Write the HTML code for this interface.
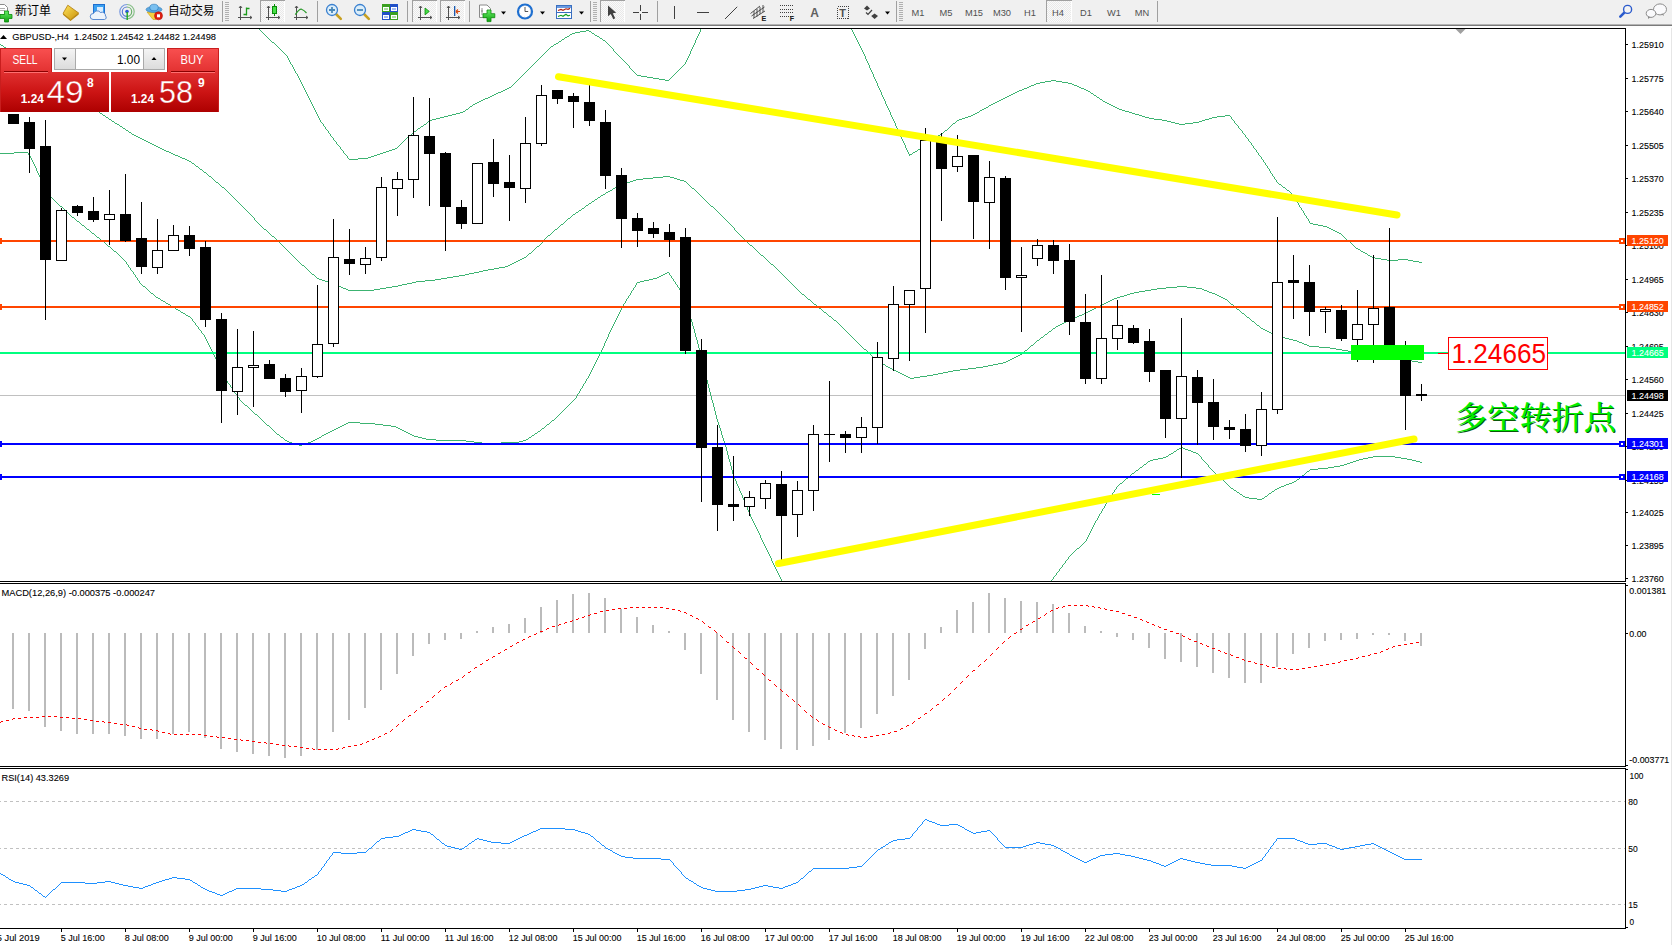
<!DOCTYPE html><html><head><meta charset="utf-8"><title>GBPUSD H4</title><style>html,body{margin:0;padding:0;background:#fff;overflow:hidden}body{width:1672px;height:945px;position:relative}</style></head><body><svg width="1672" height="945" viewBox="0 0 1672 945" font-family='"Liberation Sans","Noto Sans CJK SC",sans-serif' style="position:absolute;left:0;top:0">
<defs>
<clipPath id="cm"><rect x="0" y="29" width="1625" height="552"/></clipPath>
<linearGradient id="gsell" x1="0" y1="0" x2="0" y2="1"><stop offset="0" stop-color="#f95050"/><stop offset="1" stop-color="#e23030"/></linearGradient>
<linearGradient id="gprice" x1="0" y1="0" x2="0" y2="1"><stop offset="0" stop-color="#e03030"/><stop offset="0.5" stop-color="#cc1414"/><stop offset="1" stop-color="#ad0000"/></linearGradient>
<linearGradient id="gpriceU" gradientUnits="userSpaceOnUse" x1="0" y1="72" x2="0" y2="112"><stop offset="0" stop-color="#e03030"/><stop offset="0.5" stop-color="#cc1414"/><stop offset="1" stop-color="#ad0000"/></linearGradient>
<linearGradient id="gbtn" x1="0" y1="0" x2="0" y2="1"><stop offset="0" stop-color="#f4f4f4"/><stop offset="1" stop-color="#dcdcdc"/></linearGradient>
<linearGradient id="ggold" x1="0" y1="0" x2="1" y2="1"><stop offset="0" stop-color="#ffe45a"/><stop offset="1" stop-color="#c8900a"/></linearGradient>
<linearGradient id="ggreen" x1="0" y1="0" x2="0" y2="1"><stop offset="0" stop-color="#66ee66"/><stop offset="1" stop-color="#10a010"/></linearGradient>
<pattern id="hatch" width="2" height="2" patternUnits="userSpaceOnUse"><rect width="2" height="2" fill="#fafafa"/><rect width="1" height="1" fill="#e9e9e9"/><rect x="1" y="1" width="1" height="1" fill="#e9e9e9"/></pattern>
</defs>
<rect x="0" y="0" width="1672" height="945" fill="#fff" />
<g shape-rendering="crispEdges">
<rect x="0" y="28" width="1626" height="1" fill="#000" />
<rect x="1625" y="28" width="1" height="554" fill="#000" />
<rect x="0" y="581" width="1626" height="1" fill="#000" />
<rect x="0" y="583" width="1626" height="1" fill="#000" />
<rect x="1625" y="583" width="1" height="184" fill="#000" />
<rect x="0" y="766" width="1626" height="1" fill="#000" />
<rect x="0" y="768" width="1626" height="1" fill="#000" />
<rect x="1625" y="768" width="1" height="161" fill="#000" />
<rect x="0" y="928" width="1626" height="1" fill="#000" />
</g>
<g clip-path="url(#cm)" shape-rendering="crispEdges">
<rect x="0" y="395" width="1625" height="1" fill="#c0c0c0" />
<path d="M896 371.5h2M948 371.5h5M299 445.5h3M1070 319.5h2M185 159.5h2M349 159.5h9M989 105.5h2M1111 105.5h2M469 273.5h5M665 273.5h2M326 433.5h2M408 433.5h2M535 433.5h2M343 288.5h3M380 288.5h6M1157 288.5h9M1196 288.5h6M1294 481.5h2M904 375.5h2M927 375.5h6M617 186.5h2M55 82.5h2M1040 82.5h5M1062 82.5h6M598 197.5h2M643 178.5h10M674 178.5h3M87 229.5h2M264 229.5h2M555 229.5h2M1331 229.5h2M1058 325.5h2M1257 325.5h2M1140 467.5h2M1328 467.5h6M1062 323.5h2M348 422.5h12M285 440.5h2M313 440.5h2M436 440.5h30M523 440.5h3M158 298.5h2M1114 298.5h3M1223 298.5h2M601 195.5h2M1333 230.5h2M1350 462.5h3M1420 462.5h2M1299 342.5h3M1363 252.5h2M112 121.5h2M428 121.5h2M1167 121.5h4M1199 121.5h3M151 293.5h2M1130 293.5h4M1212 293.5h3M1012 358.5h2M1392 358.5h7M556 43.5h2M1257 499.5h5M71 93.5h2M496 93.5h2M1013 93.5h2M1091 93.5h2M143 286.5h2M339 286.5h2M392 286.5h6M1177 286.5h10M808 299.5h2M1112 299.5h2M1225 299.5h2M529 253.5h2M1365 253.5h2M1171 122.5h4M1193 122.5h6M414 436.5h4M1166 456.5h2M1373 456.5h22M1272 491.5h2M1158 458.5h5M1363 458.5h5M1401 458.5h6M1018 355.5h2M1373 355.5h7M636 179.5h7M677 179.5h3M873 357.5h2M1014 357.5h2M1386 357.5h6M1348 351.5h6M114 251.5h2M1361 251.5h2M518 260.5h2M1387 260.5h11M1408 260.5h5M129 132.5h2M1139 291.5h6M1207 291.5h2M483 99.5h2M1001 99.5h2M1100 99.5h2M188 316.5h2M829 316.5h2M1077 316.5h2M1006 361.5h2M1412 361.5h6M272 236.5h2M87 104.5h2M473 104.5h2M991 104.5h2M1109 104.5h2M619 185.5h3M161 300.5h2M1110 300.5h2M200 169.5h2M479 101.5h2M997 101.5h2M1103 101.5h2M452 114.5h4M973 114.5h2M1135 114.5h4M322 280.5h3M425 280.5h10M644 280.5h5M1150 460.5h3M1356 460.5h3M1412 460.5h4M1319 347.5h11M1302 475.5h2M573 214.5h2M1056 326.5h2M1148 461.5h2M1353 461.5h3M1416 461.5h4M84 102.5h2M477 102.5h2M995 102.5h2M1105 102.5h2M315 439.5h2M426 439.5h10M526 439.5h2M103 115.5h2M448 115.5h4M971 115.5h2M1139 115.5h3M1225 115.5h5M1179 448.5h2M1183 448.5h2M52 80.5h2M665 80.5h4M1051 80.5h5M475 103.5h2M993 103.5h2M1107 103.5h2M1269 332.5h2M1020 354.5h2M1367 354.5h6M176 309.5h2M1092 309.5h2M1237 309.5h2M1134 292.5h5M1209 292.5h3M336 428.5h2M398 428.5h2M542 428.5h2M802 294.5h2M1127 294.5h3M1215 294.5h2M1126 478.5h2M1318 468.5h10M600 38.5h2M7 49.5h2M154 145.5h2M346 289.5h2M374 289.5h6M1151 289.5h6M1202 289.5h2M166 151.5h3M386 151.5h3M915 151.5h2M222 187.5h2M615 187.5h2M1283 187.5h2M134 135.5h2M409 135.5h2M938 135.5h2M186 315.5h2M1079 315.5h3M281 437.5h2M319 437.5h2M418 437.5h4M529 437.5h2M156 146.5h2M33 67.5h2M750 245.5h2M1360 353.5h7M516 261.5h2M1413 261.5h6M647 77.5h6M302 265.5h2M508 265.5h2M1356 248.5h2M479 271.5h4M1008 360.5h2M1405 360.5h7M97 111.5h2M463 111.5h2M1125 111.5h4M322 435.5h2M412 435.5h2M532 435.5h2M109 119.5h2M432 119.5h4M959 119.5h3M1154 119.5h8M1205 119.5h4M888 367.5h2M976 367.5h7M1025 350.5h2M1342 350.5h6M900 373.5h2M938 373.5h5M892 369.5h2M960 369.5h8M988 365.5h5M576 212.5h2M1124 295.5h3M1217 295.5h2M317 438.5h2M422 438.5h4M1034 84.5h2M1072 84.5h2M100 113.5h2M456 113.5h4M975 113.5h2M1132 113.5h3M503 90.5h2M1019 90.5h3M1086 90.5h2M43 74.5h2M430 120.5h2M957 120.5h2M1162 120.5h5M1202 120.5h3M123 128.5h2M418 128.5h2M14 152.5h14M169 152.5h2M383 152.5h3M913 152.5h2M1281 486.5h3M175 155.5h3M374 155.5h3M14 54.5h2M1249 498.5h8M1262 498.5h2M1029 86.5h2M1077 86.5h2M106 117.5h2M440 117.5h4M965 117.5h3M1145 117.5h4M1212 117.5h5M444 116.5h4M968 116.5h3M1142 116.5h3M1217 116.5h8M1106 302.5h2M1053 328.5h2M1261 328.5h2M906 376.5h2M920 376.5h7M998 363.5h5M1077 548.5h2M164 150.5h2M389 150.5h3M1045 81.5h6M1056 81.5h6M182 158.5h3M358 158.5h10M453 276.5h6M659 276.5h2M171 306.5h2M1098 306.5h2M1045 334.5h2M1274 334.5h2M1120 483.5h2M1289 483.5h3M1153 459.5h5M1359 459.5h4M1407 459.5h5M436 118.5h4M962 118.5h3M1149 118.5h5M1209 118.5h3M834 320.5h2M1068 320.5h2M346 423.5h2M360 423.5h15M132 134.5h2M940 134.5h2M289 442.5h3M308 442.5h3M474 442.5h8M501 442.5h18M1286 484.5h3M562 39.5h2M334 429.5h2M400 429.5h2M886 366.5h2M983 366.5h5M82 225.5h2M1318 225.5h5M633 180.5h3M680 180.5h4M1327 227.5h2M1302 343.5h2M819 308.5h2M1094 308.5h2M292 443.5h4M305 443.5h3M482 443.5h19M559 41.5h2M136 136.5h2M936 136.5h2M0 153.5h14M171 153.5h2M380 153.5h3M608 191.5h2M156 297.5h2M1117 297.5h3M1221 297.5h2M761 255.5h2M1368 255.5h2M1243 496.5h2M1265 496.5h2M17 56.5h2M1323 226.5h4M986 107.5h2M1115 107.5h2M173 154.5h2M377 154.5h3M909 154.5h3M1335 231.5h2M488 269.5h6M864 349.5h2M1336 349.5h6M168 304.5h2M814 304.5h2M1102 304.5h2M1231 304.5h2M520 259.5h2M1381 259.5h6M1398 259.5h10M1337 232.5h2M880 362.5h2M1003 362.5h3M1418 362.5h4M216 182.5h2M627 182.5h3M1263 329.5h2M1279 336.5h2M1354 352.5h6M60 206.5h2M711 206.5h2M81 100.5h2M481 100.5h2M999 100.5h2M1329 228.5h2M255 414.5h2M1271 333.5h3M592 201.5h2M1163 457.5h3M1368 457.5h5M1395 457.5h6M341 287.5h2M386 287.5h6M1166 287.5h11M1187 287.5h9M494 268.5h5M287 441.5h2M311 441.5h2M466 441.5h8M519 441.5h4M72 217.5h2M414 131.5h2M902 374.5h2M933 374.5h5M30 65.5h2M296 444.5h3M302 444.5h3M610 190.5h2M1287 190.5h2M568 218.5h2M331 283.5h3M407 283.5h5M77 221.5h2M1169 454.5h2M138 137.5h2M934 137.5h2M603 194.5h2M20 58.5h2M328 432.5h2M406 432.5h2M898 372.5h2M943 372.5h5M586 205.5h2M338 427.5h2M396 427.5h2M163 301.5h2M1108 301.5h2M1347 240.5h2M312 274.5h2M465 274.5h4M663 274.5h2M630 181.5h3M684 181.5h2M11 52.5h2M490 96.5h2M1007 96.5h2M1370 256.5h2M1358 249.5h2M488 97.5h2M1005 97.5h2M1097 97.5h2M1304 344.5h3M62 87.5h2M509 87.5h2M1027 87.5h2M1079 87.5h2M586 30.5h3M181 312.5h2M824 312.5h2M1086 312.5h2M876 359.5h2M1010 359.5h2M1399 359.5h6M336 285.5h3M398 285.5h4M505 266.5h3M180 157.5h2M368 157.5h3M126 130.5h2M945 130.5h2M1016 356.5h2M1380 356.5h6M1310 469.5h8M507 88.5h2M1024 88.5h3M1081 88.5h3M572 33.5h3M592 33.5h2M524 257.5h2M1372 257.5h3M653 177.5h10M670 177.5h4M1136 470.5h2M1275 489.5h2M160 148.5h2M395 148.5h2M328 282.5h3M412 282.5h4M637 282.5h3M1177 449.5h2M1185 449.5h3M522 258.5h2M1375 258.5h6M1082 314.5h2M499 267.5h6M1245 497.5h4M1297 341.5h2M890 368.5h2M968 368.5h8M344 424.5h2M375 424.5h8M547 424.5h2M115 123.5h2M953 123.5h2M1175 123.5h4M1185 123.5h8M334 284.5h2M402 284.5h5M1347 463.5h3M65 89.5h2M505 89.5h2M1022 89.5h2M1084 89.5h2M74 95.5h2M492 95.5h2M1009 95.5h2M1094 95.5h2M474 272.5h5M667 272.5h2M883 364.5h2M993 364.5h5M78 98.5h2M485 98.5h3M1003 98.5h2M622 184.5h3M1279 184.5h2M146 141.5h2M926 141.5h2M582 208.5h2M348 290.5h26M1145 290.5h6M1204 290.5h3M561 224.5h2M1313 224.5h5M1334 466.5h6M1049 331.5h2M1267 331.5h2M548 235.5h2M908 377.5h2M914 377.5h6M637 75.5h4M606 192.5h2M144 140.5h2M928 140.5h2M1031 345.5h2M1307 345.5h2M512 263.5h2M1310 223.5h3M1292 482.5h2M173 307.5h2M1096 307.5h2M332 430.5h2M402 430.5h2M1037 340.5h2M1293 340.5h4M980 110.5h2M1122 110.5h3M1100 305.5h2M317 278.5h2M441 278.5h6M653 278.5h4M178 156.5h2M371 156.5h3M1307 471.5h2M120 126.5h2M421 126.5h2M552 420.5h2M554 44.5h2M325 281.5h3M416 281.5h9M640 281.5h4M570 34.5h2M1221 479.5h2M1297 479.5h2M1 45.5h2M625 183.5h2M1285 338.5h4M148 142.5h2M1041 337.5h2M1281 337.5h4M330 431.5h2M404 431.5h2M538 431.5h2M1330 348.5h6M189 161.5h2M567 36.5h2M597 36.5h2M984 108.5h2M1117 108.5h2M1284 485.5h2M1132 473.5h2M1064 322.5h2M910 378.5h4M459 275.5h6M661 275.5h2M613 188.5h2M692 188.5h2M90 106.5h2M470 106.5h2M1113 106.5h2M68 91.5h2M501 91.5h2M1017 91.5h2M1088 91.5h2M178 310.5h2M1090 310.5h2M1074 317.5h3M1247 317.5h2M49 78.5h2M653 78.5h6M894 370.5h2M953 370.5h7M94 109.5h2M466 109.5h2M982 109.5h2M1119 109.5h3M4 47.5h2M580 31.5h6M589 31.5h2M59 85.5h2M1031 85.5h3M1074 85.5h3M117 124.5h2M424 124.5h2M1179 124.5h6M551 46.5h2M1276 335.5h3M1036 83.5h4M1068 83.5h4M152 144.5h2M108 246.5h2M537 246.5h2M40 72.5h2M209 176.5h2M663 176.5h7M1072 318.5h2M92 233.5h2M1339 233.5h2M162 149.5h2M392 149.5h3M918 149.5h2M166 303.5h2M1104 303.5h2M494 94.5h2M1011 94.5h2M277 434.5h2M324 434.5h2M410 434.5h2M1060 324.5h2M659 79.5h6M158 147.5h2M24 61.5h2M36 69.5h2M589 203.5h2M1289 339.5h4M267 425.5h2M342 425.5h2M383 425.5h8M196 166.5h2M603 40.5h2M510 264.5h2M771 264.5h2M97 237.5h2M1088 311.5h2M192 163.5h2M1171 453.5h2M1196 453.5h2M245 405.5h2M483 270.5h5M183 313.5h2M1084 313.5h2M1242 313.5h2M1237 492.5h2M1265 330.5h2M340 426.5h2M391 426.5h5M514 262.5h2M1419 262.5h3M595 199.5h2M447 277.5h6M657 277.5h2M1309 346.5h10M1193 452.5h3M150 143.5h2M187 160.5h2M1231 488.5h2M1277 488.5h2M1279 487.5h2M1066 321.5h2M1252 321.5h2M1240 494.5h2M575 32.5h5M1120 296.5h4M1219 296.5h2M319 279.5h3M435 279.5h6M649 279.5h4M27 63.5h2M595 35.5h2M1174 451.5h2M1191 451.5h2M46 76.5h2M641 76.5h6M102 241.5h2M1269 493.5h2M1144 464.5h2M1344 464.5h3M565 37.5h2M204 172.5h2M142 139.5h2M930 139.5h2M1234 490.5h2M1188 450.5h3M1181 447.5h2M498 92.5h3M1015 92.5h2M460 112.5h3M977 112.5h2M1129 112.5h3M1340 465.5h4M272 42.5h2M579 210.5h2M140 138.5h2M932 138.5h2M767.5 260v1M767.5 550v2M192.5 319v2M701.5 196v1M701.5 356v4M690.5 51v3M690.5 186v1M690.5 316v3M541.5 56v1M541.5 243v1M541.5 429v1M301.5 82v2M301.5 264v1M6.5 48v1M702.5 197v1M702.5 360v4M734.5 228v2M734.5 477v2M196.5 325v1M735.5 230v1M735.5 479v2M1035.5 342v1M630.5 68v1M630.5 293v2M774.5 266v1M774.5 565v2M1286.5 189v1M531.5 66v1M531.5 252v1M531.5 436v1M1067.5 559v1M1114.5 490v2M871.5 70v2M871.5 355v1M1275.5 179v1M554.5 230v1M554.5 419v1M575.5 213v1M575.5 398v1M601.5 350v2M728.5 222v1M728.5 455v4M1346.5 239v1M613.5 49v2M613.5 324v2M689.5 54v2M689.5 185v1M689.5 314v2M532.5 65v1M532.5 251v1M309.5 98v2M309.5 271v1M217.5 361v2M547.5 50v1M547.5 236v1M1062.5 565v2M312.5 104v2M626.5 63v1M626.5 299v2M36.5 168v3M584.5 207v1M584.5 383v1M102.5 114v1M214.5 180v1M214.5 355v2M1301.5 208v2M1301.5 476v1M1217.5 475v1M1304.5 213v2M1304.5 474v1M693.5 45v2M693.5 326v3M597.5 198v1M597.5 358v2M685.5 62v2M685.5 303v2M609.5 45v1M609.5 332v2M720.5 214v1M720.5 428v3M279.5 48v1M279.5 242v1M279.5 435v1M251.5 215v1M251.5 410v1M268.5 38v1M268.5 232v1M280.5 49v1M280.5 243v1M280.5 436v1M1252.5 145v1M580.5 389v2M1296.5 200v2M1296.5 480v1M330.5 134v2M290.5 62v2M290.5 253v1M1253.5 146v2M293.5 67v2M293.5 256v1M39.5 71v1M39.5 175v2M539.5 58v1M539.5 245v1M128.5 131v1M128.5 265v2M710.5 205v1M710.5 392v4M726.5 220v1M726.5 447v4M99.5 112v1M99.5 238v1M561.5 40v1M561.5 412v1M285.5 54v1M285.5 248v1M257.5 222v1M257.5 415v1M759.5 253v1M759.5 533v2M153.5 294v1M321.5 122v1M321.5 436v1M132.5 271v1M1117.5 486v1M677.5 71v1M677.5 285v2M576.5 396v2M614.5 51v1M614.5 322v2M885.5 101v3M885.5 365v1M1065.5 561v2M154.5 295v1M1281.5 185v1M780.5 272v1M780.5 577v2M513.5 84v1M1086.5 539v2M629.5 66v2M629.5 295v1M1282.5 186v1M636.5 74v1M636.5 283v2M889.5 110v2M864.5 54v2M1108.5 499v2M625.5 62v1M625.5 301v2M706.5 201v1M706.5 376v4M1230.5 116v1M1230.5 303v1M1230.5 487v1M1124.5 480v1M917.5 150v1M896.5 126v2M899.5 132v2M596.5 360v2M417.5 129v1M736.5 231v1M736.5 481v3M195.5 165v1M195.5 323v2M1234.5 121v2M1234.5 306v1M684.5 64v1M684.5 300v3M608.5 44v1M608.5 334v3M696.5 38v2M696.5 191v1M696.5 337v3M765.5 258v1M765.5 546v2M737.5 232v1M737.5 484v2M1104.5 506v2M621.5 58v1M621.5 308v2M520.5 77v1M291.5 64v1M291.5 254v1M1053.5 577v2M263.5 33v1M263.5 228v1M263.5 421v1M262.5 32v1M262.5 227v1M262.5 420v1M94.5 234v1M175.5 308v1M605.5 41v1M605.5 193v1M605.5 341v2M703.5 198v1M703.5 364v4M252.5 216v1M252.5 411v1M292.5 65v2M292.5 255v1M84.5 226v1M777.5 269v1M777.5 571v2M198.5 167v1M198.5 327v2M773.5 265v1M773.5 563v2M840.5 325v1M699.5 32v2M699.5 194v1M699.5 348v4M149.5 291v1M744.5 239v1M744.5 500v3M766.5 259v1M766.5 548v2M776.5 268v1M776.5 569v2M1100.5 513v1M617.5 54v1M617.5 316v2M150.5 292v1M1277.5 182v1M750.5 514v3M1052.5 329v1M1052.5 579v1M212.5 178v1M212.5 351v2M1299.5 205v2M1299.5 478v1M215.5 181v1M215.5 357v2M751.5 517v2M310.5 100v2M310.5 272v1M948.5 128v1M715.5 209v1M715.5 411v4M1303.5 211v2M716.5 210v1M716.5 415v4M692.5 47v2M692.5 322v4M527.5 70v1M527.5 255v1M548.5 49v1M281.5 50v1M281.5 244v1M253.5 217v1M253.5 412v1M328.5 131v2M695.5 40v3M695.5 190v1M695.5 333v4M223.5 373v2M1267.5 166v2M1267.5 495v1M254.5 218v2M254.5 413v1M46.5 188v2M89.5 105v1M89.5 230v1M130.5 268v2M332.5 137v1M49.5 193v2M709.5 204v1M709.5 388v4M79.5 222v1M90.5 231v1M270.5 40v1M270.5 234v1M270.5 427v1M101.5 240v1M134.5 274v1M743.5 238v1M743.5 498v2M615.5 52v1M615.5 320v2M271.5 41v1M271.5 235v1M271.5 428v1M1096.5 96v1M1096.5 520v1M534.5 63v1M534.5 249v1M534.5 434v1M208.5 175v1M208.5 343v2M303.5 86v2M1099.5 98v1M1099.5 514v2M887.5 106v2M427.5 122v1M30.5 156v2M862.5 50v2M862.5 347v1M729.5 223v1M729.5 459v3M31.5 158v2M1211.5 469v1M897.5 128v2M1232.5 119v1M869.5 65v3M869.5 353v1M732.5 226v1M732.5 470v4M1095.5 521v2M700.5 29v3M700.5 195v1M700.5 352v4M898.5 130v2M635.5 73v1M635.5 285v2M724.5 218v1M724.5 441v3M122.5 127v1M122.5 258v1M74.5 218v1M1119.5 484v1M905.5 145v3M85.5 227v1M265.5 35v1M265.5 423v1M185.5 314v1M305.5 90v2M305.5 267v1M742.5 237v1M742.5 495v3M725.5 219v1M725.5 444v3M607.5 43v1M607.5 337v2M771.5 558v3M294.5 69v2M294.5 257v1M86.5 103v1M86.5 228v1M266.5 36v1M266.5 230v1M266.5 424v1M622.5 59v1M622.5 306v2M779.5 271v1M779.5 575v2M749.5 244v1M749.5 512v2M687.5 58v2M687.5 183v1M687.5 308v3M403.5 141v1M671.5 77v1M671.5 276v2M224.5 188v1M224.5 375v2M760.5 254v1M760.5 535v3M319.5 118v2M211.5 177v1M211.5 349v2M77.5 97v1M598.5 356v2M255.5 220v1M225.5 189v1M225.5 377v2M320.5 120v2M522.5 75v1M47.5 190v1M669.5 79v1M669.5 273v2M697.5 36v2M697.5 192v1M697.5 340v4M334.5 140v1M1090.5 92v1M1090.5 531v2M48.5 77v1M48.5 191v2M80.5 99v1M80.5 223v1M300.5 80v2M300.5 263v1M540.5 57v1M540.5 244v1M540.5 430v1M81.5 224v1M1071.5 554v1M1034.5 343v1M273.5 430v1M678.5 70v1M678.5 287v1M206.5 173v1M206.5 339v2M804.5 295v1M1353.5 245v1M867.5 61v2M867.5 351v1M1066.5 560v1M29.5 64v1M29.5 155v1M878.5 86v2M878.5 360v1M207.5 174v1M207.5 341v2M302.5 84v2M816.5 305v1M868.5 63v2M868.5 352v1M1224.5 481v1M1213.5 471v1M717.5 211v1M717.5 419v3M275.5 44v1M275.5 238v1M275.5 432v1M526.5 71v1M526.5 256v1M229.5 193v1M229.5 384v1M264.5 34v1M264.5 422v1M40.5 177v2M1125.5 479v1M276.5 45v1M276.5 239v1M276.5 433v1M1238.5 126v2M218.5 183v1M218.5 363v2M230.5 194v1M230.5 385v2M1106.5 502v2M219.5 184v1M219.5 365v2M903.5 141v2M231.5 195v1M231.5 387v1M875.5 79v2M875.5 358v1M1089.5 533v2M1054.5 576v1M593.5 366v2M76.5 96v1M76.5 220v1M235.5 199v1M235.5 393v1M1263.5 160v2M682.5 66v1M682.5 295v2M1102.5 100v1M1102.5 509v2M853.5 32v2M853.5 338v1M1367.5 254v1M713.5 207v1M713.5 403v4M882.5 95v2M882.5 363v1M1289.5 191v1M1085.5 541v1M811.5 301v1M863.5 52v2M863.5 348v1M533.5 64v1M533.5 250v1M1219.5 477v1M1198.5 454v1M1220.5 478v1M892.5 117v2M922.5 146v1M758.5 252v1M758.5 531v2M318.5 116v2M416.5 130v1M322.5 123v1M670.5 78v1M670.5 275v1M287.5 56v2M287.5 250v1M674.5 74v1M674.5 281v1M620.5 57v1M620.5 310v2M258.5 223v1M258.5 416v1M190.5 317v1M336.5 142v2M769.5 262v1M769.5 554v2M113.5 250v1M1264.5 162v1M1264.5 497v1M347.5 156v2M340.5 147v2M592.5 368v2M558.5 42v1M558.5 227v1M558.5 415v1M604.5 343v3M788.5 280v1M1355.5 247v1M1285.5 188v1M870.5 68v2M870.5 354v1M588.5 204v1M588.5 376v2M1029.5 347v1M1226.5 483v1M38.5 70v1M38.5 173v2M216.5 359v2M311.5 102v2M311.5 273v1M1227.5 300v1M1227.5 484v1M1236.5 124v1M1236.5 308v1M1236.5 491v1M314.5 108v2M314.5 275v1M277.5 46v1M277.5 240v1M278.5 47v1M278.5 241v1M233.5 197v1M233.5 390v1M877.5 83v3M1251.5 143v2M1251.5 320v1M295.5 71v2M295.5 258v1M237.5 201v1M237.5 395v2M681.5 67v1M681.5 292v3M1036.5 341v1M739.5 234v1M739.5 488v3M296.5 73v1M296.5 259v1M631.5 69v1M631.5 291v2M883.5 97v2M855.5 36v2M855.5 340v1M1269.5 169v2M141.5 284v1M555.5 418v1M884.5 99v2M1291.5 193v2M691.5 49v2M691.5 187v1M691.5 319v3M600.5 196v1M600.5 352v2M1200.5 456v1M1249.5 141v1M1249.5 318v1M1260.5 156v1M1260.5 327v1M587.5 378v1M891.5 115v2M1233.5 120v1M1233.5 305v1M1233.5 489v1M672.5 76v1M672.5 278v1M284.5 53v1M284.5 247v1M284.5 439v1M583.5 384v2M288.5 58v2M288.5 251v1M562.5 411v1M634.5 72v1M634.5 287v1M338.5 145v1M289.5 60v2M289.5 252v1M260.5 30v1M260.5 225v1M260.5 418v1M768.5 261v1M768.5 552v2M411.5 134v1M618.5 55v1M618.5 314v2M559.5 226v1M559.5 414v1M775.5 267v1M775.5 567v2M579.5 391v2M827.5 314v1M838.5 323v1M746.5 241v1M746.5 505v2M839.5 324v1M148.5 290v1M402.5 142v1M553.5 45v1M553.5 231v1M1111.5 495v1M753.5 247v1M753.5 521v2M313.5 106v2M1256.5 150v2M1256.5 324v1M1059.5 569v2M566.5 220v1M566.5 407v1M544.5 53v1M544.5 239v2M544.5 427v1M708.5 203v1M708.5 384v4M560.5 225v1M560.5 413v1M297.5 74v2M297.5 260v1M129.5 267v1M518.5 79v1M1039.5 339v1M1070.5 555v1M239.5 203v1M239.5 398v2M741.5 236v1M741.5 493v2M833.5 319v1M133.5 272v2M1360.5 250v1M823.5 311v1M1293.5 196v1M551.5 233v1M551.5 421v1M1294.5 197v2M210.5 347v2M573.5 400v1M1297.5 202v1M1209.5 467v1M861.5 48v2M861.5 346v1M33.5 162v2M525.5 72v1M1300.5 207v1M1300.5 477v1M286.5 55v1M286.5 249v1M226.5 190v1M226.5 379v2M1058.5 571v1M900.5 134v3M537.5 60v1M537.5 432v1M733.5 227v1M733.5 474v3M748.5 243v1M748.5 510v2M818.5 307v1M778.5 270v1M778.5 573v2M1084.5 542v1M841.5 326v1M752.5 246v1M752.5 519v2M944.5 131v1M921.5 147v1M221.5 186v1M221.5 369v2M545.5 52v1M545.5 238v1M545.5 426v1M762.5 540v2M227.5 191v1M227.5 381v2M1255.5 149v1M1255.5 323v1M298.5 76v2M298.5 261v1M50.5 195v2M241.5 205v1M241.5 401v1M1139.5 468v1M612.5 48v1M612.5 189v1M612.5 326v2M1259.5 155v1M1259.5 326v1M722.5 216v1M722.5 435v3M299.5 78v2M299.5 262v1M627.5 64v1M627.5 298v1M784.5 276v1M755.5 249v1M755.5 525v2M847.5 332v1M135.5 275v2M1351.5 243v1M616.5 53v1M616.5 318v2M1295.5 199v1M785.5 277v1M209.5 345v2M304.5 88v2M304.5 266v1M307.5 94v2M307.5 269v1M423.5 125v1M730.5 224v1M730.5 462v4M401.5 143v1M32.5 66v1M32.5 160v2M1223.5 480v1M688.5 56v2M688.5 184v1M688.5 311v3M546.5 51v1M546.5 237v1M546.5 425v1M873.5 74v3M1271.5 173v1M1271.5 492v1M42.5 73v1M42.5 181v2M1147.5 462v1M228.5 192v1M228.5 383v1M104.5 242v1M105.5 116v1M105.5 243v1M116.5 252v1M343.5 151v2M906.5 148v2M248.5 212v1M248.5 407v1M201.5 331v2M408.5 136v1M515.5 82v1M872.5 72v2M872.5 356v1M623.5 60v1M623.5 304v2M1116.5 487v2M676.5 72v1M676.5 284v1M512.5 85v1M528.5 69v1M528.5 254v1M528.5 438v1M1218.5 476v1M1305.5 215v1M1305.5 473v1M1112.5 493v2M1306.5 216v2M1306.5 472v1M611.5 47v1M611.5 328v2M1309.5 221v2M1309.5 470v1M1107.5 501v1M234.5 198v1M234.5 391v2M1043.5 336v1M582.5 386v2M267.5 37v1M267.5 231v1M1123.5 481v1M1076.5 549v1M1055.5 327v1M1055.5 575v1M1257.5 152v1M256.5 221v1M100.5 239v1M111.5 120v1M111.5 248v1M683.5 65v1M683.5 297v3M63.5 208v1M673.5 75v1M673.5 279v2M912.5 153v1M52.5 198v1M335.5 141v1M243.5 207v1M243.5 403v1M578.5 211v1M578.5 393v1M519.5 78v1M155.5 296v1M137.5 278v2M786.5 278v1M757.5 251v1M757.5 529v2M787.5 279v1M552.5 232v1M1063.5 564v1M1110.5 496v2M1225.5 482v1M718.5 212v1M718.5 422v3M610.5 46v1M610.5 330v2M698.5 34v2M698.5 193v1M698.5 344v4M1235.5 123v1M1235.5 307v1M565.5 221v1M565.5 408v1M686.5 60v2M686.5 182v1M686.5 305v3M41.5 179v2M721.5 215v1M721.5 431v4M95.5 235v1M274.5 43v1M274.5 237v1M274.5 431v1M106.5 244v1M704.5 199v1M704.5 368v4M96.5 110v1M96.5 236v1M107.5 245v1M59.5 205v1M118.5 254v1M1168.5 455v1M538.5 59v1M203.5 171v1M203.5 334v1M577.5 394v2M793.5 285v1M857.5 40v2M857.5 342v1M1307.5 218v1M893.5 119v2M1129.5 476v1M282.5 51v1M282.5 245v1M1245.5 135v2M1245.5 315v1M236.5 200v1M236.5 394v1M283.5 52v1M283.5 246v1M283.5 438v1M269.5 39v1M269.5 233v1M269.5 426v1M323.5 124v2M675.5 73v1M675.5 282v2M91.5 232v1M9.5 50v1M337.5 144v1M952.5 124v1M836.5 321v1M727.5 221v1M727.5 451v4M1101.5 511v2M837.5 322v1M1097.5 518v2M1254.5 148v1M1254.5 322v1M220.5 185v1M220.5 367v2M1237.5 125v1M1093.5 94v1M1093.5 525v2M707.5 202v1M707.5 380v4M205.5 337v2M843.5 328v1M1266.5 165v1M856.5 38v2M856.5 341v1M740.5 235v1M740.5 491v2M1270.5 171v2M603.5 346v2M832.5 318v1M844.5 329v1M795.5 287v1M1033.5 344v1M1292.5 195v1M400.5 144v1M1060.5 568v1M866.5 59v2M866.5 350v1M567.5 219v1M567.5 406v1M35.5 68v1M35.5 166v2M324.5 126v1M1146.5 463v1M902.5 139v2M325.5 127v2M1092.5 527v2M1040.5 338v1M193.5 321v1M339.5 146v1M407.5 137v1M1068.5 557v2M1115.5 489v1M1088.5 535v2M747.5 242v1M747.5 507v3M879.5 88v2M879.5 361v1M619.5 56v1M619.5 312v2M574.5 399v1M1207.5 464v1M511.5 86v1M1131.5 474v1M571.5 216v1M571.5 402v1M1048.5 332v1M1239.5 128v1M1239.5 310v1M1239.5 493v1M70.5 92v1M70.5 215v1M1075.5 550v1M1240.5 129v1M1240.5 311v1M1122.5 482v1M250.5 214v1M250.5 409v1M719.5 213v1M719.5 425v3M308.5 96v2M308.5 270v1M764.5 257v1M764.5 544v2M240.5 204v1M240.5 400v1M1268.5 168v1M1268.5 494v1M782.5 274v1M845.5 330v1M1272.5 174v2M846.5 331v1M1199.5 455v1M1082.5 544v1M731.5 225v1M731.5 466v4M530.5 67v1M865.5 56v3M1298.5 203v2M34.5 164v2M326.5 129v1M569.5 35v1M569.5 404v1M259.5 29v1M259.5 224v1M259.5 417v1M564.5 38v1M564.5 222v1M564.5 409v1M54.5 81v1M54.5 200v1M679.5 69v1M679.5 288v2M341.5 149v1M907.5 150v2M315.5 110v2M315.5 276v1M789.5 281v1M694.5 43v2M694.5 189v1M694.5 329v4M745.5 240v1M745.5 503v2M852.5 30v2M852.5 337v1M714.5 208v1M714.5 407v4M125.5 129v1M125.5 261v1M1216.5 474v1M1228.5 301v1M1228.5 485v1M232.5 196v1M232.5 388v2M1231.5 117v2M1308.5 219v2M1241.5 130v1M1241.5 312v1M1242.5 131v2M1242.5 495v1M120.5 256v1M238.5 202v1M238.5 397v1M16.5 55v1M121.5 257v1M131.5 133v1M131.5 270v1M633.5 71v1M633.5 288v2M110.5 247v1M606.5 42v1M606.5 339v2M1274.5 177v2M1274.5 490v1M628.5 65v1M628.5 296v2M1201.5 457v2M213.5 179v1M213.5 353v2M1030.5 346v1M191.5 162v1M191.5 318v1M543.5 54v1M543.5 241v1M261.5 31v1M261.5 226v1M261.5 419v1M1143.5 465v1M56.5 202v1M57.5 83v1M57.5 203v1M581.5 209v1M581.5 388v1M197.5 326v1M881.5 92v3M632.5 70v1M632.5 290v1M556.5 417v1M791.5 283v1M517.5 80v1M854.5 34v2M854.5 339v1M792.5 284v1M859.5 44v2M859.5 344v1M1064.5 563v1M888.5 108v2M28.5 153v2M1229.5 302v1M1229.5 486v1M108.5 118v1M550.5 47v1M550.5 234v1M550.5 422v1M599.5 37v1M599.5 354v2M705.5 200v1M705.5 372v4M1243.5 133v1M761.5 538v2M1244.5 134v1M1244.5 314v1M563.5 223v1M563.5 410v1M524.5 73v1M1091.5 529v2M595.5 362v2M45.5 75v1M45.5 186v2M123.5 259v1M1258.5 153v2M1262.5 159v1M798.5 290v1M138.5 280v1M1203.5 460v1M306.5 92v2M306.5 268v1M1083.5 543v1M1130.5 475v1M570.5 217v1M570.5 403v1M1047.5 333v1M591.5 32v1M591.5 202v1M591.5 370v2M943.5 132v1M920.5 148v1M44.5 185v1M242.5 206v1M242.5 402v1M247.5 211v1M247.5 406v1M594.5 34v1M594.5 200v1M594.5 364v2M199.5 168v1M199.5 329v1M345.5 154v1M200.5 330v1M346.5 155v1M711.5 396v4M1138.5 469v1M842.5 327v1M1342.5 235v1M805.5 296v1M886.5 104v2M858.5 42v2M858.5 343v1M923.5 144v2M572.5 215v1M572.5 401v1M894.5 121v2M1023.5 352v1M73.5 94v1M1176.5 450v1M472.5 105v1M988.5 106v1M723.5 217v1M723.5 438v3M770.5 263v1M770.5 556v2M1261.5 157v2M756.5 250v1M756.5 527v2M848.5 333v1M10.5 51v1M139.5 281v2M800.5 292v1M589.5 374v2M1205.5 462v1M949.5 127v1M1206.5 463v1M585.5 206v1M585.5 381v2M244.5 208v1M244.5 404v1M117.5 253v1M23.5 60v1M1069.5 556v1M956.5 121v1M249.5 213v1M249.5 408v1M146.5 288v1M763.5 256v1M763.5 542v2M624.5 61v1M624.5 303v1M405.5 139v1M557.5 228v1M557.5 416v1M807.5 298v1M895.5 123v3M83.5 101v1M1057.5 572v1M1248.5 139v2M542.5 55v1M542.5 242v1M112.5 249v1M1073.5 552v1M874.5 77v2M1105.5 504v2M0.5 44v1M53.5 199v1M19.5 57v1M680.5 68v1M680.5 290v2M127.5 264v1M516.5 81v1M850.5 335v1M712.5 400v3M142.5 285v1M851.5 29v1M851.5 336v1M754.5 248v1M754.5 523v2M1208.5 465v2M317.5 114v2M1044.5 335v1M523.5 74v1M194.5 164v1M194.5 322v1M1056.5 573v2M119.5 125v1M119.5 255v1M1051.5 330v1M1051.5 580v1M204.5 335v2M794.5 286v1M465.5 110v1M535.5 62v1M535.5 248v1M1087.5 537v2M1273.5 176v1M951.5 125v1M1135.5 471v1M1276.5 180v2M924.5 143v1M92.5 107v1M37.5 171v2M942.5 133v1M1079.5 547v1M1024.5 351v1M901.5 137v2M327.5 130v1M1173.5 452v1M66.5 211v1M331.5 136v1M55.5 201v1M67.5 90v1M67.5 212v1M908.5 152v2M1349.5 241v1M880.5 90v2M602.5 39v1M602.5 348v2M781.5 273v1M781.5 579v2M790.5 282v1M590.5 372v2M890.5 112v3M549.5 48v1M549.5 423v1M1210.5 468v1M586.5 379v2M399.5 145v1M61.5 86v1M738.5 233v1M738.5 486v2M796.5 288v1M1345.5 238v1M797.5 289v1M406.5 138v1M860.5 46v2M860.5 345v1M1202.5 459v1M397.5 147v1M329.5 133v1M58.5 84v1M58.5 204v1M43.5 183v2M413.5 132v1M333.5 138v2M909.5 155v1M1074.5 551v1M68.5 213v1M180.5 311v1M69.5 214v1M344.5 153v1M404.5 140v1M979.5 111v1M1352.5 244v1M1113.5 492v1M1061.5 567v1M1081.5 545v1M1128.5 477v1M1212.5 470v1M568.5 405v1M529.5 68v1M246.5 210v1M1072.5 553v1M26.5 62v1M772.5 561v2M160.5 299v1M536.5 61v1M536.5 247v1M799.5 291v1M1302.5 210v1M1204.5 461v1M222.5 371v2M202.5 170v1M202.5 333v1M342.5 150v1M1103.5 508v1M3.5 46v1M22.5 59v1M316.5 112v2M316.5 277v1M145.5 287v1M950.5 126v1M1134.5 472v1M1354.5 246v1M947.5 129v1M1246.5 137v1M1246.5 316v1M62.5 207v1M468.5 108v1M904.5 143v2M1247.5 138v1M876.5 81v2M51.5 79v1M51.5 197v1M1142.5 466v1M136.5 277v1M126.5 262v2M1265.5 163v2M1278.5 183v1M831.5 317v1M140.5 283v1M849.5 334v1M1098.5 516v2M1027.5 349v1M114.5 122v1M1094.5 523v2M398.5 146v1M13.5 53v1M272.5 429v1M1118.5 485v1M348.5 158v1M165.5 302v1M1341.5 234v1M826.5 313v1M514.5 83v1M147.5 289v1M1109.5 498v1M64.5 88v1M64.5 209v1M412.5 133v1M75.5 219v1M521.5 76v1M124.5 260v1M65.5 210v1M810.5 300v1M821.5 309v1M822.5 310v1M925.5 142v1M1080.5 546v1M1250.5 142v1M1250.5 319v1M420.5 127v1M1022.5 353v1M71.5 216v1M1343.5 236v1M806.5 297v1M817.5 306v1M828.5 315v1M1344.5 237v1M1214.5 472v1M1215.5 473v1M93.5 108v1M469.5 107v1M170.5 305v1M801.5 293v1M1290.5 192v1M955.5 122v1M812.5 302v1M783.5 275v1M426.5 123v1M1350.5 242v1M813.5 303v1M1028.5 348v1M245.5 209v1" stroke="#3cb371" stroke-width="1" fill="none"/>
<rect x="0" y="240" width="1625" height="2" fill="#ff4500" />
<rect x="0" y="306" width="1625" height="2" fill="#ff4500" />
<rect x="0" y="352" width="1625" height="2" fill="#00ff7f" />
<rect x="0" y="443" width="1625" height="2" fill="#0000ff" />
<rect x="0" y="476" width="1625" height="2" fill="#0000ff" />
<rect x="13" y="114" width="1" height="10" fill="#000" />
<rect x="8" y="114" width="11" height="10" fill="#000" />
<rect x="29" y="117" width="1" height="56" fill="#000" />
<rect x="24" y="122" width="11" height="27" fill="#000" />
<rect x="45" y="120" width="1" height="200" fill="#000" />
<rect x="40" y="146" width="11" height="114" fill="#000" />
<rect x="61" y="208" width="1" height="53" fill="#000" />
<rect x="56" y="210" width="11" height="51" fill="#000" />
<rect x="57" y="211" width="9" height="49" fill="#fff" />
<rect x="77" y="205" width="1" height="11" fill="#000" />
<rect x="72" y="206" width="11" height="7" fill="#000" />
<rect x="93" y="197" width="1" height="25" fill="#000" />
<rect x="88" y="211" width="11" height="9" fill="#000" />
<rect x="109" y="190" width="1" height="55" fill="#000" />
<rect x="104" y="214" width="11" height="6" fill="#000" />
<rect x="105" y="215" width="9" height="4" fill="#fff" />
<rect x="125" y="174" width="1" height="68" fill="#000" />
<rect x="120" y="214" width="11" height="27" fill="#000" />
<rect x="141" y="202" width="1" height="72" fill="#000" />
<rect x="136" y="238" width="11" height="29" fill="#000" />
<rect x="157" y="219" width="1" height="55" fill="#000" />
<rect x="152" y="250" width="11" height="18" fill="#000" />
<rect x="153" y="251" width="9" height="16" fill="#fff" />
<rect x="173" y="225" width="1" height="26" fill="#000" />
<rect x="168" y="235" width="11" height="16" fill="#000" />
<rect x="169" y="236" width="9" height="14" fill="#fff" />
<rect x="189" y="226" width="1" height="30" fill="#000" />
<rect x="184" y="235" width="11" height="14" fill="#000" />
<rect x="205" y="241" width="1" height="86" fill="#000" />
<rect x="200" y="247" width="11" height="73" fill="#000" />
<rect x="221" y="313" width="1" height="110" fill="#000" />
<rect x="216" y="319" width="11" height="72" fill="#000" />
<rect x="237" y="329" width="1" height="86" fill="#000" />
<rect x="232" y="367" width="11" height="25" fill="#000" />
<rect x="233" y="368" width="9" height="23" fill="#fff" />
<rect x="253" y="331" width="1" height="76" fill="#000" />
<rect x="248" y="365" width="11" height="3" fill="#000" />
<rect x="249" y="366" width="9" height="1" fill="#fff" />
<rect x="269" y="360" width="1" height="19" fill="#000" />
<rect x="264" y="364" width="11" height="15" fill="#000" />
<rect x="285" y="374" width="1" height="23" fill="#000" />
<rect x="280" y="378" width="11" height="14" fill="#000" />
<rect x="301" y="368" width="1" height="45" fill="#000" />
<rect x="296" y="376" width="11" height="15" fill="#000" />
<rect x="297" y="377" width="9" height="13" fill="#fff" />
<rect x="317" y="285" width="1" height="93" fill="#000" />
<rect x="312" y="344" width="11" height="33" fill="#000" />
<rect x="313" y="345" width="9" height="31" fill="#fff" />
<rect x="333" y="219" width="1" height="128" fill="#000" />
<rect x="328" y="257" width="11" height="87" fill="#000" />
<rect x="329" y="258" width="9" height="85" fill="#fff" />
<rect x="349" y="229" width="1" height="46" fill="#000" />
<rect x="344" y="259" width="11" height="5" fill="#000" />
<rect x="365" y="247" width="1" height="27" fill="#000" />
<rect x="360" y="258" width="11" height="7" fill="#000" />
<rect x="361" y="259" width="9" height="5" fill="#fff" />
<rect x="381" y="177" width="1" height="84" fill="#000" />
<rect x="376" y="187" width="11" height="71" fill="#000" />
<rect x="377" y="188" width="9" height="69" fill="#fff" />
<rect x="397" y="172" width="1" height="44" fill="#000" />
<rect x="392" y="179" width="11" height="10" fill="#000" />
<rect x="393" y="180" width="9" height="8" fill="#fff" />
<rect x="413" y="97" width="1" height="101" fill="#000" />
<rect x="408" y="135" width="11" height="45" fill="#000" />
<rect x="409" y="136" width="9" height="43" fill="#fff" />
<rect x="429" y="98" width="1" height="108" fill="#000" />
<rect x="424" y="136" width="11" height="18" fill="#000" />
<rect x="445" y="152" width="1" height="99" fill="#000" />
<rect x="440" y="153" width="11" height="54" fill="#000" />
<rect x="461" y="200" width="1" height="29" fill="#000" />
<rect x="456" y="207" width="11" height="17" fill="#000" />
<rect x="477" y="163" width="1" height="61" fill="#000" />
<rect x="472" y="163" width="11" height="61" fill="#000" />
<rect x="473" y="164" width="9" height="59" fill="#fff" />
<rect x="493" y="139" width="1" height="58" fill="#000" />
<rect x="488" y="162" width="11" height="22" fill="#000" />
<rect x="509" y="155" width="1" height="66" fill="#000" />
<rect x="504" y="182" width="11" height="6" fill="#000" />
<rect x="525" y="117" width="1" height="86" fill="#000" />
<rect x="520" y="143" width="11" height="46" fill="#000" />
<rect x="521" y="144" width="9" height="44" fill="#fff" />
<rect x="541" y="85" width="1" height="61" fill="#000" />
<rect x="536" y="95" width="11" height="49" fill="#000" />
<rect x="537" y="96" width="9" height="47" fill="#fff" />
<rect x="557" y="90" width="1" height="14" fill="#000" />
<rect x="552" y="90" width="11" height="9" fill="#000" />
<rect x="573" y="93" width="1" height="35" fill="#000" />
<rect x="568" y="96" width="11" height="6" fill="#000" />
<rect x="589" y="85" width="1" height="41" fill="#000" />
<rect x="584" y="102" width="11" height="19" fill="#000" />
<rect x="605" y="110" width="1" height="79" fill="#000" />
<rect x="600" y="122" width="11" height="54" fill="#000" />
<rect x="621" y="168" width="1" height="80" fill="#000" />
<rect x="616" y="175" width="11" height="44" fill="#000" />
<rect x="637" y="213" width="1" height="34" fill="#000" />
<rect x="632" y="218" width="11" height="13" fill="#000" />
<rect x="653" y="222" width="1" height="16" fill="#000" />
<rect x="648" y="228" width="11" height="6" fill="#000" />
<rect x="669" y="224" width="1" height="33" fill="#000" />
<rect x="664" y="232" width="11" height="8" fill="#000" />
<rect x="685" y="228" width="1" height="126" fill="#000" />
<rect x="680" y="237" width="11" height="114" fill="#000" />
<rect x="701" y="339" width="1" height="163" fill="#000" />
<rect x="696" y="350" width="11" height="98" fill="#000" />
<rect x="717" y="425" width="1" height="106" fill="#000" />
<rect x="712" y="447" width="11" height="58" fill="#000" />
<rect x="733" y="456" width="1" height="65" fill="#000" />
<rect x="728" y="504" width="11" height="3" fill="#000" />
<rect x="749" y="491" width="1" height="25" fill="#000" />
<rect x="744" y="497" width="11" height="10" fill="#000" />
<rect x="745" y="498" width="9" height="8" fill="#fff" />
<rect x="765" y="480" width="1" height="29" fill="#000" />
<rect x="760" y="483" width="11" height="16" fill="#000" />
<rect x="761" y="484" width="9" height="14" fill="#fff" />
<rect x="781" y="471" width="1" height="90" fill="#000" />
<rect x="776" y="484" width="11" height="32" fill="#000" />
<rect x="797" y="481" width="1" height="56" fill="#000" />
<rect x="792" y="490" width="11" height="25" fill="#000" />
<rect x="793" y="491" width="9" height="23" fill="#fff" />
<rect x="813" y="425" width="1" height="86" fill="#000" />
<rect x="808" y="434" width="11" height="57" fill="#000" />
<rect x="809" y="435" width="9" height="55" fill="#fff" />
<rect x="829" y="381" width="1" height="81" fill="#000" />
<rect x="824" y="434" width="11" height="1" fill="#000" />
<rect x="845" y="431" width="1" height="22" fill="#000" />
<rect x="840" y="434" width="11" height="4" fill="#000" />
<rect x="861" y="417" width="1" height="36" fill="#000" />
<rect x="856" y="427" width="11" height="11" fill="#000" />
<rect x="857" y="428" width="9" height="9" fill="#fff" />
<rect x="877" y="342" width="1" height="102" fill="#000" />
<rect x="872" y="357" width="11" height="71" fill="#000" />
<rect x="873" y="358" width="9" height="69" fill="#fff" />
<rect x="893" y="286" width="1" height="85" fill="#000" />
<rect x="888" y="304" width="11" height="55" fill="#000" />
<rect x="889" y="305" width="9" height="53" fill="#fff" />
<rect x="909" y="290" width="1" height="71" fill="#000" />
<rect x="904" y="290" width="11" height="15" fill="#000" />
<rect x="905" y="291" width="9" height="13" fill="#fff" />
<rect x="925" y="128" width="1" height="205" fill="#000" />
<rect x="920" y="140" width="11" height="149" fill="#000" />
<rect x="921" y="141" width="9" height="147" fill="#fff" />
<rect x="941" y="133" width="1" height="88" fill="#000" />
<rect x="936" y="142" width="11" height="27" fill="#000" />
<rect x="957" y="135" width="1" height="37" fill="#000" />
<rect x="952" y="156" width="11" height="11" fill="#000" />
<rect x="953" y="157" width="9" height="9" fill="#fff" />
<rect x="973" y="155" width="1" height="84" fill="#000" />
<rect x="968" y="155" width="11" height="47" fill="#000" />
<rect x="989" y="161" width="1" height="88" fill="#000" />
<rect x="984" y="177" width="11" height="26" fill="#000" />
<rect x="985" y="178" width="9" height="24" fill="#fff" />
<rect x="1005" y="176" width="1" height="114" fill="#000" />
<rect x="1000" y="178" width="11" height="100" fill="#000" />
<rect x="1021" y="247" width="1" height="85" fill="#000" />
<rect x="1016" y="275" width="11" height="3" fill="#000" />
<rect x="1017" y="276" width="9" height="1" fill="#fff" />
<rect x="1037" y="239" width="1" height="27" fill="#000" />
<rect x="1032" y="245" width="11" height="14" fill="#000" />
<rect x="1033" y="246" width="9" height="12" fill="#fff" />
<rect x="1053" y="240" width="1" height="34" fill="#000" />
<rect x="1048" y="245" width="11" height="16" fill="#000" />
<rect x="1069" y="244" width="1" height="91" fill="#000" />
<rect x="1064" y="260" width="11" height="62" fill="#000" />
<rect x="1085" y="294" width="1" height="90" fill="#000" />
<rect x="1080" y="322" width="11" height="57" fill="#000" />
<rect x="1101" y="275" width="1" height="109" fill="#000" />
<rect x="1096" y="338" width="11" height="41" fill="#000" />
<rect x="1097" y="339" width="9" height="39" fill="#fff" />
<rect x="1117" y="300" width="1" height="50" fill="#000" />
<rect x="1112" y="325" width="11" height="14" fill="#000" />
<rect x="1113" y="326" width="9" height="12" fill="#fff" />
<rect x="1133" y="325" width="1" height="19" fill="#000" />
<rect x="1128" y="328" width="11" height="15" fill="#000" />
<rect x="1149" y="329" width="1" height="53" fill="#000" />
<rect x="1144" y="341" width="11" height="31" fill="#000" />
<rect x="1165" y="370" width="1" height="68" fill="#000" />
<rect x="1160" y="370" width="11" height="49" fill="#000" />
<rect x="1181" y="318" width="1" height="160" fill="#000" />
<rect x="1176" y="376" width="11" height="43" fill="#000" />
<rect x="1177" y="377" width="9" height="41" fill="#fff" />
<rect x="1197" y="370" width="1" height="75" fill="#000" />
<rect x="1192" y="377" width="11" height="26" fill="#000" />
<rect x="1213" y="379" width="1" height="61" fill="#000" />
<rect x="1208" y="402" width="11" height="25" fill="#000" />
<rect x="1229" y="420" width="1" height="19" fill="#000" />
<rect x="1224" y="427" width="11" height="3" fill="#000" />
<rect x="1245" y="414" width="1" height="38" fill="#000" />
<rect x="1240" y="429" width="11" height="17" fill="#000" />
<rect x="1261" y="392" width="1" height="64" fill="#000" />
<rect x="1256" y="409" width="11" height="37" fill="#000" />
<rect x="1257" y="410" width="9" height="35" fill="#fff" />
<rect x="1277" y="217" width="1" height="197" fill="#000" />
<rect x="1272" y="282" width="11" height="128" fill="#000" />
<rect x="1273" y="283" width="9" height="126" fill="#fff" />
<rect x="1293" y="255" width="1" height="64" fill="#000" />
<rect x="1288" y="280" width="11" height="3" fill="#000" />
<rect x="1309" y="265" width="1" height="71" fill="#000" />
<rect x="1304" y="282" width="11" height="30" fill="#000" />
<rect x="1325" y="307" width="1" height="26" fill="#000" />
<rect x="1320" y="309" width="11" height="3" fill="#000" />
<rect x="1321" y="310" width="9" height="1" fill="#fff" />
<rect x="1341" y="305" width="1" height="36" fill="#000" />
<rect x="1336" y="310" width="11" height="29" fill="#000" />
<rect x="1357" y="290" width="1" height="72" fill="#000" />
<rect x="1352" y="324" width="11" height="16" fill="#000" />
<rect x="1353" y="325" width="9" height="14" fill="#fff" />
<rect x="1373" y="255" width="1" height="108" fill="#000" />
<rect x="1368" y="308" width="11" height="17" fill="#000" />
<rect x="1369" y="309" width="9" height="15" fill="#fff" />
<rect x="1389" y="228" width="1" height="123" fill="#000" />
<rect x="1384" y="307" width="11" height="44" fill="#000" />
<rect x="1405" y="341" width="1" height="89" fill="#000" />
<rect x="1400" y="350" width="11" height="46" fill="#000" />
<rect x="1421" y="384" width="1" height="17" fill="#000" />
<rect x="1416" y="394" width="11" height="2" fill="#000" />
</g>
<g clip-path="url(#cm)">
<line x1="558.5" y1="76.7" x2="1397" y2="215" stroke="#ffff00" stroke-width="7" stroke-linecap="round"/>
<line x1="778.5" y1="563.5" x2="1414" y2="439" stroke="#ffff00" stroke-width="7" stroke-linecap="round"/>
</g>
<g shape-rendering="crispEdges">
<rect x="1351" y="345" width="73" height="15" fill="#00ff00" />
<rect x="1152" y="494" width="8" height="1" fill="#00ff00" />
<rect x="-4" y="238" width="6" height="6" fill="#ff4500" />
<rect x="-2" y="240" width="2" height="2" fill="#fff" />
<rect x="1619" y="238" width="6" height="6" fill="#ff4500" />
<rect x="1621" y="240" width="2" height="2" fill="#fff" />
<rect x="-4" y="304" width="6" height="6" fill="#ff4500" />
<rect x="-2" y="306" width="2" height="2" fill="#fff" />
<rect x="1619" y="304" width="6" height="6" fill="#ff4500" />
<rect x="1621" y="306" width="2" height="2" fill="#fff" />
<rect x="-4" y="441" width="6" height="6" fill="#0000ff" />
<rect x="-2" y="443" width="2" height="2" fill="#fff" />
<rect x="1619" y="441" width="6" height="6" fill="#0000ff" />
<rect x="1621" y="443" width="2" height="2" fill="#fff" />
<rect x="-4" y="474" width="6" height="6" fill="#0000ff" />
<rect x="-2" y="476" width="2" height="2" fill="#fff" />
<rect x="1619" y="474" width="6" height="6" fill="#0000ff" />
<rect x="1621" y="476" width="2" height="2" fill="#fff" />
<rect x="1448" y="337" width="100" height="33" fill="#ff0000" />
<rect x="1449" y="338" width="98" height="31" fill="#fff" />
<rect x="1438" y="353" width="10" height="1" fill="#ff0000" />
</g>
<text x="1451.5" y="363.3" font-size="27.3" fill="#ff0000" textLength="94.5" lengthAdjust="spacingAndGlyphs">1.24665</text>
<text x="1455" y="429" font-size="32.2" font-weight="500" font-family='"Noto Serif CJK SC","Noto Sans CJK SC",serif' fill="#00f000" style="text-shadow:1px 1px 0 #0a5a0a" textLength="161">
多空转折点</text>
<g shape-rendering="crispEdges">
<rect x="1626" y="44" width="2" height="1" fill="#000" />
<rect x="1626" y="78" width="2" height="1" fill="#000" />
<rect x="1626" y="111" width="2" height="1" fill="#000" />
<rect x="1626" y="145" width="2" height="1" fill="#000" />
<rect x="1626" y="178" width="2" height="1" fill="#000" />
<rect x="1626" y="212" width="2" height="1" fill="#000" />
<rect x="1626" y="245" width="2" height="1" fill="#000" />
<rect x="1626" y="279" width="2" height="1" fill="#000" />
<rect x="1626" y="312" width="2" height="1" fill="#000" />
<rect x="1626" y="346" width="2" height="1" fill="#000" />
<rect x="1626" y="379" width="2" height="1" fill="#000" />
<rect x="1626" y="413" width="2" height="1" fill="#000" />
<rect x="1626" y="446" width="2" height="1" fill="#000" />
<rect x="1626" y="480" width="2" height="1" fill="#000" />
<rect x="1626" y="512" width="2" height="1" fill="#000" />
<rect x="1626" y="545" width="2" height="1" fill="#000" />
<rect x="1626" y="578" width="2" height="1" fill="#000" />
</g>
<text x="1631.5" y="48" font-size="9.8" fill="#000" textLength="32.3" lengthAdjust="spacingAndGlyphs" stroke="#000" stroke-width="0.1">1.25910</text>
<text x="1631.5" y="82" font-size="9.8" fill="#000" textLength="32.3" lengthAdjust="spacingAndGlyphs" stroke="#000" stroke-width="0.1">1.25775</text>
<text x="1631.5" y="115" font-size="9.8" fill="#000" textLength="32.3" lengthAdjust="spacingAndGlyphs" stroke="#000" stroke-width="0.1">1.25640</text>
<text x="1631.5" y="149" font-size="9.8" fill="#000" textLength="32.3" lengthAdjust="spacingAndGlyphs" stroke="#000" stroke-width="0.1">1.25505</text>
<text x="1631.5" y="182" font-size="9.8" fill="#000" textLength="32.3" lengthAdjust="spacingAndGlyphs" stroke="#000" stroke-width="0.1">1.25370</text>
<text x="1631.5" y="216" font-size="9.8" fill="#000" textLength="32.3" lengthAdjust="spacingAndGlyphs" stroke="#000" stroke-width="0.1">1.25235</text>
<text x="1631.5" y="249" font-size="9.8" fill="#000" textLength="32.3" lengthAdjust="spacingAndGlyphs" stroke="#000" stroke-width="0.1">1.25100</text>
<text x="1631.5" y="283" font-size="9.8" fill="#000" textLength="32.3" lengthAdjust="spacingAndGlyphs" stroke="#000" stroke-width="0.1">1.24965</text>
<text x="1631.5" y="316" font-size="9.8" fill="#000" textLength="32.3" lengthAdjust="spacingAndGlyphs" stroke="#000" stroke-width="0.1">1.24830</text>
<text x="1631.5" y="350" font-size="9.8" fill="#000" textLength="32.3" lengthAdjust="spacingAndGlyphs" stroke="#000" stroke-width="0.1">1.24695</text>
<text x="1631.5" y="383" font-size="9.8" fill="#000" textLength="32.3" lengthAdjust="spacingAndGlyphs" stroke="#000" stroke-width="0.1">1.24560</text>
<text x="1631.5" y="417" font-size="9.8" fill="#000" textLength="32.3" lengthAdjust="spacingAndGlyphs" stroke="#000" stroke-width="0.1">1.24425</text>
<text x="1631.5" y="450" font-size="9.8" fill="#000" textLength="32.3" lengthAdjust="spacingAndGlyphs" stroke="#000" stroke-width="0.1">1.24290</text>
<text x="1631.5" y="484" font-size="9.8" fill="#000" textLength="32.3" lengthAdjust="spacingAndGlyphs" stroke="#000" stroke-width="0.1">1.24155</text>
<text x="1631.5" y="516" font-size="9.8" fill="#000" textLength="32.3" lengthAdjust="spacingAndGlyphs" stroke="#000" stroke-width="0.1">1.24025</text>
<text x="1631.5" y="549" font-size="9.8" fill="#000" textLength="32.3" lengthAdjust="spacingAndGlyphs" stroke="#000" stroke-width="0.1">1.23895</text>
<text x="1631.5" y="582" font-size="9.8" fill="#000" textLength="32.3" lengthAdjust="spacingAndGlyphs" stroke="#000" stroke-width="0.1">1.23760</text>
<rect x="1627" y="235" width="41" height="11" fill="#ff4500" shape-rendering="crispEdges"/>
<text x="1631.5" y="244" font-size="9.8" fill="#fff" textLength="32.3" lengthAdjust="spacingAndGlyphs" stroke="#fff" stroke-width="0.1">1.25120</text>
<rect x="1627" y="301" width="41" height="11" fill="#ff4500" shape-rendering="crispEdges"/>
<text x="1631.5" y="310" font-size="9.8" fill="#fff" textLength="32.3" lengthAdjust="spacingAndGlyphs" stroke="#fff" stroke-width="0.1">1.24852</text>
<rect x="1627" y="347" width="41" height="11" fill="#00ff7f" shape-rendering="crispEdges"/>
<text x="1631.5" y="356" font-size="9.8" fill="#fff" textLength="32.3" lengthAdjust="spacingAndGlyphs" stroke="#fff" stroke-width="0.1">1.24665</text>
<rect x="1627" y="390" width="41" height="11" fill="#000" shape-rendering="crispEdges"/>
<text x="1631.5" y="399" font-size="9.8" fill="#fff" textLength="32.3" lengthAdjust="spacingAndGlyphs" stroke="#fff" stroke-width="0.1">1.24498</text>
<rect x="1627" y="438" width="41" height="11" fill="#0000ff" shape-rendering="crispEdges"/>
<text x="1631.5" y="447" font-size="9.8" fill="#fff" textLength="32.3" lengthAdjust="spacingAndGlyphs" stroke="#fff" stroke-width="0.1">1.24301</text>
<rect x="1627" y="471" width="41" height="11" fill="#0000ff" shape-rendering="crispEdges"/>
<text x="1631.5" y="480" font-size="9.8" fill="#fff" textLength="32.3" lengthAdjust="spacingAndGlyphs" stroke="#fff" stroke-width="0.1">1.24168</text>
<polygon points="1455.5,29 1465.5,29 1460.5,34" fill="#a0a0a0"/>
<g shape-rendering="crispEdges">
<rect x="12" y="633" width="2" height="76" fill="#bbbbbb" />
<rect x="28" y="633" width="2" height="78" fill="#bbbbbb" />
<rect x="44" y="633" width="2" height="94" fill="#bbbbbb" />
<rect x="60" y="633" width="2" height="98" fill="#bbbbbb" />
<rect x="76" y="633" width="2" height="101" fill="#bbbbbb" />
<rect x="92" y="633" width="2" height="101" fill="#bbbbbb" />
<rect x="108" y="633" width="2" height="101" fill="#bbbbbb" />
<rect x="124" y="633" width="2" height="103" fill="#bbbbbb" />
<rect x="140" y="633" width="2" height="106" fill="#bbbbbb" />
<rect x="156" y="633" width="2" height="106" fill="#bbbbbb" />
<rect x="172" y="633" width="2" height="101" fill="#bbbbbb" />
<rect x="188" y="633" width="2" height="99" fill="#bbbbbb" />
<rect x="204" y="633" width="2" height="105" fill="#bbbbbb" />
<rect x="220" y="633" width="2" height="116" fill="#bbbbbb" />
<rect x="236" y="633" width="2" height="119" fill="#bbbbbb" />
<rect x="252" y="633" width="2" height="121" fill="#bbbbbb" />
<rect x="268" y="633" width="2" height="123" fill="#bbbbbb" />
<rect x="284" y="633" width="2" height="125" fill="#bbbbbb" />
<rect x="300" y="633" width="2" height="123" fill="#bbbbbb" />
<rect x="316" y="633" width="2" height="117" fill="#bbbbbb" />
<rect x="332" y="633" width="2" height="99" fill="#bbbbbb" />
<rect x="348" y="633" width="2" height="87" fill="#bbbbbb" />
<rect x="364" y="633" width="2" height="75" fill="#bbbbbb" />
<rect x="380" y="633" width="2" height="57" fill="#bbbbbb" />
<rect x="396" y="633" width="2" height="41" fill="#bbbbbb" />
<rect x="412" y="633" width="2" height="23" fill="#bbbbbb" />
<rect x="428" y="633" width="2" height="11" fill="#bbbbbb" />
<rect x="444" y="633" width="2" height="7" fill="#bbbbbb" />
<rect x="460" y="633" width="2" height="6" fill="#bbbbbb" />
<rect x="476" y="631" width="2" height="2" fill="#bbbbbb" />
<rect x="492" y="627" width="2" height="6" fill="#bbbbbb" />
<rect x="508" y="624" width="2" height="9" fill="#bbbbbb" />
<rect x="524" y="618" width="2" height="15" fill="#bbbbbb" />
<rect x="540" y="607" width="2" height="26" fill="#bbbbbb" />
<rect x="556" y="600" width="2" height="33" fill="#bbbbbb" />
<rect x="572" y="594" width="2" height="39" fill="#bbbbbb" />
<rect x="588" y="593" width="2" height="40" fill="#bbbbbb" />
<rect x="604" y="598" width="2" height="35" fill="#bbbbbb" />
<rect x="620" y="609" width="2" height="24" fill="#bbbbbb" />
<rect x="636" y="617" width="2" height="16" fill="#bbbbbb" />
<rect x="652" y="625" width="2" height="8" fill="#bbbbbb" />
<rect x="668" y="631" width="2" height="2" fill="#bbbbbb" />
<rect x="684" y="633" width="2" height="17" fill="#bbbbbb" />
<rect x="700" y="633" width="2" height="41" fill="#bbbbbb" />
<rect x="716" y="633" width="2" height="67" fill="#bbbbbb" />
<rect x="732" y="633" width="2" height="87" fill="#bbbbbb" />
<rect x="748" y="633" width="2" height="99" fill="#bbbbbb" />
<rect x="764" y="633" width="2" height="107" fill="#bbbbbb" />
<rect x="780" y="633" width="2" height="116" fill="#bbbbbb" />
<rect x="796" y="633" width="2" height="117" fill="#bbbbbb" />
<rect x="812" y="633" width="2" height="113" fill="#bbbbbb" />
<rect x="828" y="633" width="2" height="107" fill="#bbbbbb" />
<rect x="844" y="633" width="2" height="100" fill="#bbbbbb" />
<rect x="860" y="633" width="2" height="95" fill="#bbbbbb" />
<rect x="876" y="633" width="2" height="81" fill="#bbbbbb" />
<rect x="892" y="633" width="2" height="63" fill="#bbbbbb" />
<rect x="908" y="633" width="2" height="47" fill="#bbbbbb" />
<rect x="924" y="633" width="2" height="16" fill="#bbbbbb" />
<rect x="940" y="627" width="2" height="6" fill="#bbbbbb" />
<rect x="956" y="610" width="2" height="23" fill="#bbbbbb" />
<rect x="972" y="602" width="2" height="31" fill="#bbbbbb" />
<rect x="988" y="593" width="2" height="40" fill="#bbbbbb" />
<rect x="1004" y="598" width="2" height="35" fill="#bbbbbb" />
<rect x="1020" y="601" width="2" height="32" fill="#bbbbbb" />
<rect x="1036" y="602" width="2" height="31" fill="#bbbbbb" />
<rect x="1052" y="604" width="2" height="29" fill="#bbbbbb" />
<rect x="1068" y="613" width="2" height="20" fill="#bbbbbb" />
<rect x="1084" y="626" width="2" height="7" fill="#bbbbbb" />
<rect x="1100" y="631" width="2" height="2" fill="#bbbbbb" />
<rect x="1116" y="633" width="2" height="4" fill="#bbbbbb" />
<rect x="1132" y="633" width="2" height="7" fill="#bbbbbb" />
<rect x="1148" y="633" width="2" height="15" fill="#bbbbbb" />
<rect x="1164" y="633" width="2" height="26" fill="#bbbbbb" />
<rect x="1180" y="633" width="2" height="29" fill="#bbbbbb" />
<rect x="1196" y="633" width="2" height="34" fill="#bbbbbb" />
<rect x="1212" y="633" width="2" height="40" fill="#bbbbbb" />
<rect x="1228" y="633" width="2" height="45" fill="#bbbbbb" />
<rect x="1244" y="633" width="2" height="50" fill="#bbbbbb" />
<rect x="1260" y="633" width="2" height="50" fill="#bbbbbb" />
<rect x="1276" y="633" width="2" height="34" fill="#bbbbbb" />
<rect x="1292" y="633" width="2" height="21" fill="#bbbbbb" />
<rect x="1308" y="633" width="2" height="15" fill="#bbbbbb" />
<rect x="1324" y="633" width="2" height="8" fill="#bbbbbb" />
<rect x="1340" y="633" width="2" height="7" fill="#bbbbbb" />
<rect x="1356" y="633" width="2" height="6" fill="#bbbbbb" />
<rect x="1372" y="633" width="2" height="2" fill="#bbbbbb" />
<rect x="1388" y="633" width="2" height="2" fill="#bbbbbb" />
<rect x="1404" y="633" width="2" height="8" fill="#bbbbbb" />
<rect x="1420" y="633" width="2" height="13" fill="#bbbbbb" />
</g>
<path d="M162 732.5h3M840 732.5h2M1194 641.5h3M300 747.5h3M343 747.5h2M174 734.5h3M180 734.5h3M186 734.5h3M192 734.5h3M198 734.5h3M846 734.5h2M882 734.5h3M493 656.5h2M1362 656.5h3M559 624.5h2M1152 624.5h2M282 745.5h3M354 745.5h3M1278 668.5h3M1284 668.5h2M1302 668.5h3M289 746.5h2M294 746.5h3M348 746.5h3M217 737.5h2M222 737.5h3M864 737.5h3M24 717.5h3M30 717.5h3M36 717.5h3M60 717.5h3M66 717.5h3M42 716.5h3M48 716.5h3M54 716.5h3M606 610.5h3M678 610.5h2M1051 610.5h2M1110 610.5h3M523 639.5h2M1189 639.5h2M1212 648.5h3M588 615.5h2M690 615.5h2M1128 615.5h3M925 713.5h2M1026 625.5h2M1068 605.5h3M1074 605.5h3M1080 605.5h3M1086 605.5h2M270 743.5h3M144 729.5h3M150 729.5h2M1404 644.5h3M108 722.5h3M204 735.5h3M852 735.5h2M876 735.5h3M475 667.5h2M1272 667.5h3M1308 667.5h3M1063 606.5h2M1092 606.5h2M505 649.5h2M1386 649.5h2M234 739.5h3M372 739.5h2M114 723.5h3M1014 633.5h2M1176 633.5h3M510 646.5h2M1207 646.5h2M1393 646.5h2M168 733.5h2M385 733.5h2M888 733.5h2M1398 645.5h3M252 741.5h3M367 741.5h2M1200 643.5h2M1410 643.5h3M1255 663.5h2M1332 663.5h3M829 727.5h2M618 608.5h3M624 608.5h3M666 608.5h3M1056 608.5h2M313 749.5h2M318 749.5h3M324 749.5h3M330 749.5h3M336 749.5h2M498 653.5h2M1225 653.5h2M1374 653.5h3M480 664.5h2M1260 664.5h3M1326 664.5h3M565 622.5h2M1147 622.5h2M600 611.5h3M1116 611.5h3M582 617.5h2M1134 617.5h3M1242 659.5h2M1350 659.5h3M276 744.5h3M360 744.5h2M696 618.5h2M1038 618.5h2M456 680.5h2M769 680.5h2M1248 661.5h3M84 719.5h3M139 728.5h2M901 728.5h2M486 660.5h2M1344 660.5h3M1 721.5h2M96 721.5h3M102 721.5h2M210 736.5h3M379 736.5h2M858 736.5h2M870 736.5h3M1320 665.5h3M576 619.5h2M1140 619.5h2M534 634.5h2M132 726.5h3M13 718.5h2M18 718.5h3M72 718.5h3M78 718.5h3M918 718.5h2M6 720.5h3M90 720.5h3M630 607.5h3M636 607.5h3M642 607.5h3M648 607.5h3M654 607.5h3M660 607.5h3M1098 607.5h2M228 738.5h3M552 626.5h3M709 627.5h2M1159 627.5h2M306 748.5h3M1218 650.5h2M757 669.5h2M1290 669.5h3M1296 669.5h3M120 724.5h3M823 724.5h2M540 631.5h3M1170 631.5h3M445 686.5h2M258 742.5h3M264 742.5h2M1020 629.5h2M1164 629.5h3M684 612.5h2M127 725.5h2M907 725.5h2M973 670.5h2M156 730.5h2M835 730.5h2M421 706.5h2M570 621.5h2M1033 621.5h2M1236 657.5h3M517 642.5h2M727 642.5h2M1416 642.5h3M745 658.5h2M1356 658.5h2M1231 655.5h2M1368 655.5h2M409 715.5h2M241 740.5h2M246 740.5h3M1267 666.5h2M1314 666.5h3M468 672.5h2M612 609.5h3M672 609.5h3M1105 609.5h2M529 636.5h2M1183 636.5h2M937 704.5h2M1338 662.5h2M1381 651.5h2M894 731.5h3M594 613.5h3M1122 613.5h3M427 701.5h2M547 628.5h2M722.5 637v1M715.5 631v1M750.5 662v1M415.5 711v1M416.5 710v1M1220.5 651v1M763.5 674v1M1286.5 669v1M492.5 657v1M1358.5 657v1M266.5 743v1M955.5 688v1M956.5 687v1M787.5 695v1M990.5 655v1M152.5 730v1M810.5 715v1M1206.5 645v1M692.5 616v1M860.5 737v1M811.5 716v1M1154.5 625v1M954.5 689v1M1146.5 621v1M764.5 675v1M799.5 705v1M817.5 720v1M1100.5 608v1M584.5 616v1M1182.5 635v1M536.5 633v1M788.5 696v1M1388.5 648v1M444.5 687v1M726.5 641v1M362.5 743v1M434.5 695v1M463.5 676v1M464.5 675v1M138.5 727v1M812.5 717v1M452.5 682v1M782.5 691v1M834.5 729v1M900.5 729v1M980.5 664v1M800.5 706v1M104.5 722v1M432.5 697v1M1370.5 654v1M433.5 696v1M462.5 677v1M438.5 692v1M1016.5 632v1M978.5 666v1M1040.5 617v1M488.5 659v1M1028.5 624v1M1032.5 622v1M420.5 707v1M0.5 722v1M738.5 651v1M686.5 613v1M426.5 702v1M1244.5 660v1M998.5 647v1M1392.5 647v1M716.5 632v1M816.5 719v1M751.5 663v1M768.5 679v1M744.5 657v1M739.5 652v1M756.5 668v1M822.5 723v1M1050.5 611v1M996.5 649v1M962.5 681v1M997.5 648v1M740.5 653v1M414.5 712v1M752.5 664v1M1266.5 665v1M703.5 622v1M780.5 689v1M378.5 737v1M798.5 704v1M854.5 736v1M1230.5 654v1M578.5 618v1M890.5 732v1M398.5 724v1M516.5 643v1M404.5 719v1M848.5 735v1M804.5 710v1M12.5 719v1M1088.5 606v1M402.5 721v1M986.5 659v1M818.5 721v1M781.5 690v1M439.5 691v1M312.5 748v1M714.5 630v1M842.5 733v1M979.5 665v1M984.5 661v1M950.5 693v1M985.5 660v1M1188.5 638v1M451.5 683v1M390.5 731v1M805.5 711v1M528.5 637v1M1224.5 652v1M1380.5 652v1M458.5 679v1M906.5 726v1M126.5 724v1M932.5 708v1M949.5 694v1M450.5 684v1M972.5 671v1M366.5 742v1M944.5 698v1M470.5 671v1M913.5 722v1M914.5 721v1M702.5 621v1M482.5 663v1M942.5 700v1M474.5 668v1M912.5 723v1M732.5 646v1M240.5 739v1M1158.5 626v1M720.5 635v1M158.5 731v1M1003.5 642v1M1004.5 641v1M1202.5 644v1M930.5 710v1M733.5 647v1M680.5 611v1M1142.5 620v1M828.5 726v1M1045.5 614v1M1046.5 613v1M403.5 720v1M408.5 716v1M1008.5 638v1M392.5 729v1M960.5 683v1M512.5 645v1M961.5 682v1M704.5 623v1M384.5 734v1M792.5 699v1M504.5 650v1M522.5 640v1M288.5 745v1M391.5 730v1M396.5 726v1M698.5 619v1M397.5 725v1M734.5 648v1M774.5 684v1M762.5 673v1M991.5 654v1M992.5 653v1M775.5 685v1M1058.5 607v1M338.5 748v1M793.5 700v1M786.5 694v1M1062.5 607v1M342.5 748v1M806.5 712v1M943.5 699v1M948.5 695v1M794.5 701v1M1340.5 661v1M564.5 623v1M1010.5 636v1M216.5 736v1M590.5 614v1M558.5 625v1M776.5 686v1M931.5 709v1M936.5 705v1M546.5 629v1M1022.5 628v1M1009.5 637v1M572.5 620v1M920.5 717v1M721.5 636v1M440.5 690v1M967.5 676v1M1002.5 643v1M968.5 675v1M1104.5 608v1M1094.5 607v1M924.5 714v1M708.5 626v1M500.5 652v1M1254.5 662v1M1044.5 615v1M966.5 677v1M374.5 738v1M170.5 734v1" stroke="#ff0000" stroke-width="1" fill="none" shape-rendering="crispEdges"/>
<text x="1.5" y="596" font-size="9.9" fill="#000" textLength="153.5" lengthAdjust="spacingAndGlyphs" stroke="#000" stroke-width="0.1">MACD(12,26,9) -0.000375 -0.000247</text>
<g shape-rendering="crispEdges">
<rect x="1626" y="585" width="2" height="1" fill="#000" />
<rect x="1626" y="633" width="2" height="1" fill="#000" />
<rect x="1626" y="765" width="2" height="1" fill="#000" />
</g>
<text x="1629.3" y="594" font-size="9.8" fill="#000" textLength="37" lengthAdjust="spacingAndGlyphs" stroke="#000" stroke-width="0.1">0.001381</text>
<text x="1629.3" y="637" font-size="9.8" fill="#000" textLength="17.2" lengthAdjust="spacingAndGlyphs" stroke="#000" stroke-width="0.1">0.00</text>
<text x="1629.3" y="763" font-size="9.8" fill="#000" textLength="40" lengthAdjust="spacingAndGlyphs" stroke="#000" stroke-width="0.1">-0.003771</text>
<g shape-rendering="crispEdges">
<line x1="0" y1="801.5" x2="1625" y2="801.5" stroke="#c0c0c0" stroke-width="1" stroke-dasharray="3 3" stroke-dashoffset="2"/>
<line x1="0" y1="848.5" x2="1625" y2="848.5" stroke="#c0c0c0" stroke-width="1" stroke-dasharray="3 3" stroke-dashoffset="2"/>
<line x1="0" y1="904.5" x2="1625" y2="904.5" stroke="#c0c0c0" stroke-width="1" stroke-dasharray="3 3" stroke-dashoffset="2"/>
</g>
<path d="M15 882.5h4M61 882.5h24M97 882.5h8M111 882.5h4M156 882.5h3M193 882.5h2M305 882.5h2M796 882.5h2M139 888.5h4M203 888.5h2M236 888.5h25M292 888.5h3M703 888.5h4M751 888.5h4M779 888.5h4M53 889.5h2M205 889.5h2M234 889.5h2M261 889.5h12M289 889.5h3M707 889.5h4M745 889.5h6M445 845.5h2M602 845.5h2M1026 845.5h3M1051 845.5h3M1329 845.5h3M1360 845.5h5M1376 845.5h2M1161 865.5h3M1166 865.5h2M1211 865.5h21M1250 865.5h2M617 854.5h2M1105 854.5h8M1120 854.5h5M1394 854.5h2M9 879.5h2M165 879.5h4M185 879.5h5M309 879.5h2M447 846.5h4M465 846.5h2M883 846.5h2M1023 846.5h3M1054 846.5h2M1332 846.5h3M1355 846.5h5M1378 846.5h2M11 880.5h2M162 880.5h3M190 880.5h2M689 880.5h2M886 844.5h2M1029 844.5h4M1045 844.5h6M1308 844.5h9M1327 844.5h2M1365 844.5h6M1374 844.5h2M813 868.5h36M1243 868.5h3M399 835.5h2M524 835.5h3M333 852.5h8M357 852.5h9M613 852.5h2M1065 852.5h2M1390 852.5h2M23 884.5h4M119 884.5h4M151 884.5h2M302 884.5h2M791 884.5h2M405 832.5h3M427 832.5h3M531 832.5h2M581 832.5h4M971 832.5h2M976 832.5h5M19 883.5h4M85 883.5h12M115 883.5h4M153 883.5h3M195 883.5h2M694 883.5h2M793 883.5h3M451 847.5h4M881 847.5h2M1005 847.5h18M1056 847.5h2M1335 847.5h2M1349 847.5h6M1380 847.5h2M540 828.5h25M212 892.5h3M227 892.5h2M491 842.5h10M510 842.5h2M889 842.5h2M1036 842.5h4M1303 842.5h2M621 856.5h4M1072 856.5h2M1098 856.5h2M1131 856.5h4M1398 856.5h2M459 849.5h3M608 849.5h2M878 849.5h2M1340 849.5h4M1384 849.5h2M412 829.5h4M538 829.5h2M565 829.5h10M965 829.5h2M217 894.5h3M223 894.5h2M619 855.5h2M1070 855.5h2M1100 855.5h5M1125 855.5h6M1396 855.5h2M393 836.5h6M522 836.5h2M591 836.5h2M35 890.5h2M207 890.5h2M232 890.5h2M273 890.5h8M287 890.5h2M711 890.5h4M737 890.5h8M1063 851.5h2M1388 851.5h2M220 895.5h3M442 843.5h2M469 843.5h2M501 843.5h9M1033 843.5h3M1040 843.5h5M1305 843.5h3M1317 843.5h10M1371 843.5h3M1084 862.5h3M1153 862.5h3M1172 862.5h2M1195 862.5h5M1256 862.5h2M1159 864.5h2M1168 864.5h2M1205 864.5h6M1252 864.5h2M661 859.5h9M1078 859.5h2M1091 859.5h2M1143 859.5h4M1178 859.5h2M1183 859.5h4M1404 859.5h18M1080 860.5h2M1089 860.5h2M1147 860.5h4M1176 860.5h2M1187 860.5h4M1260 860.5h2M169 878.5h3M177 878.5h8M686 878.5h2M801 878.5h2M927 820.5h2M381 838.5h4M477 838.5h2M518 838.5h2M905 838.5h5M1277 838.5h18M128 886.5h5M145 886.5h3M297 886.5h3M699 886.5h2M759 886.5h4M768 886.5h5M785 886.5h3M385 837.5h8M520 837.5h2M929 821.5h3M633 858.5h28M1076 858.5h2M1093 858.5h3M1139 858.5h4M1180 858.5h3M1402 858.5h2M31 887.5h2M133 887.5h6M143 887.5h2M201 887.5h2M295 887.5h2M701 887.5h2M755 887.5h4M773 887.5h6M783 887.5h2M13 881.5h2M105 881.5h6M159 881.5h3M691 881.5h2M209 891.5h3M229 891.5h3M281 891.5h6M715 891.5h22M3 875.5h2M315 875.5h2M1156 863.5h3M1170 863.5h2M1200 863.5h5M1254 863.5h2M437 839.5h2M475 839.5h2M479 839.5h4M516 839.5h2M897 839.5h8M1295 839.5h2M341 853.5h16M615 853.5h2M1067 853.5h2M1113 853.5h7M1392 853.5h2M410 830.5h2M416 830.5h5M536 830.5h2M575 830.5h3M967 830.5h2M987 830.5h3M408 831.5h2M421 831.5h6M533 831.5h3M578 831.5h3M969 831.5h2M981 831.5h6M401 834.5h2M431 834.5h2M527 834.5h2M588 834.5h2M937 824.5h3M949 824.5h9M369 848.5h2M455 848.5h4M462 848.5h2M606 848.5h2M1058 848.5h2M1337 848.5h3M1344 848.5h5M1382 848.5h2M27 885.5h3M123 885.5h5M148 885.5h3M198 885.5h2M300 885.5h2M697 885.5h2M763 885.5h5M788 885.5h3M625 857.5h8M1074 857.5h2M1096 857.5h2M1135 857.5h4M1400 857.5h2M377 841.5h2M472 841.5h2M487 841.5h4M512 841.5h2M597 841.5h2M891 841.5h2M1300 841.5h3M403 833.5h2M529 833.5h2M585 833.5h3M973 833.5h3M1 874.5h2M1082 861.5h2M1087 861.5h2M1151 861.5h2M1174 861.5h2M1191 861.5h4M1258 861.5h2M849 867.5h8M1237 867.5h6M1246 867.5h2M43 896.5h2M809 871.5h2M39 893.5h2M215 893.5h2M225 893.5h2M6 877.5h2M172 877.5h5M312 877.5h2M960 826.5h2M857 866.5h5M1164 866.5h2M1232 866.5h5M1248 866.5h2M940 825.5h9M958 825.5h2M483 840.5h4M514 840.5h2M893 840.5h4M1297 840.5h3M932 822.5h3M925 819.5h2M610 850.5h2M1061 850.5h2M1386 850.5h2M962 827.5h2M935 823.5h2M593.5 837v1M992.5 833v1M1273.5 843v2M604.5 846v1M321.5 868v2M324.5 864v2M323.5 866v1M380.5 839v1M993.5 834v1M46.5 896v1M605.5 847v1M320.5 870v1M5.5 876v1M330.5 856v1M332.5 853v2M872.5 855v1M873.5 854v1M441.5 842v1M964.5 828v1M52.5 890v1M922.5 822v2M308.5 880v1M870.5 857v1M871.5 856v1M372.5 846v1M994.5 835v1M681.5 872v2M599.5 842v1M56.5 887v1M311.5 878v1M995.5 836v1M467.5 845v1M990.5 831v1M435.5 837v1M33.5 888v1M996.5 837v1M471.5 842v1M1060.5 849v1M192.5 881v1M314.5 876v1M1269.5 849v1M1271.5 846v1M439.5 840v1M41.5 894v1M1265.5 854v2M997.5 838v2M1069.5 854v1M326.5 861v2M58.5 885v1M59.5 884v1M322.5 867v1M433.5 835v1M682.5 874v1M42.5 895v1M51.5 891v1M57.5 886v1M916.5 830v1M318.5 872v2M683.5 875v1M55.5 888v1M912.5 834v2M50.5 892v1M0.5 873v1M673.5 863v2M30.5 886v1M1275.5 841v1M1276.5 839v2M885.5 845v1M868.5 859v1M696.5 884v1M1262.5 858v2M600.5 843v1M869.5 858v1M808.5 872v1M48.5 894v1M1272.5 845v1M1270.5 847v2M49.5 893v1M684.5 876v1M867.5 860v1M807.5 873v1M436.5 838v1M34.5 889v1M812.5 869v1M1268.5 850v2M376.5 842v1M47.5 895v1M474.5 840v1M674.5 865v1M685.5 877v1M328.5 859v1M329.5 857v2M331.5 855v1M866.5 861v1M679.5 870v1M601.5 844v1M999.5 841v1M594.5 838v1M374.5 844v1M800.5 879v1M920.5 825v1M675.5 866v1M921.5 824v1M325.5 863v1M327.5 860v1M444.5 844v1M1263.5 857v1M917.5 828v2M200.5 886v1M434.5 836v1M596.5 840v1M877.5 850v1M612.5 851v1M677.5 868v1M678.5 869v1M875.5 852v1M876.5 851v1M1264.5 856v1M911.5 836v1M888.5 843v1M1274.5 842v1M37.5 891v1M874.5 853v1M811.5 870v1M375.5 843v1M806.5 874v1M924.5 820v1M38.5 892v1M440.5 841v1M304.5 883v1M998.5 840v1M373.5 845v1M799.5 880v1M804.5 876v1M865.5 862v1M805.5 875v1M1004.5 846v1M379.5 840v1M368.5 849v1M8.5 878v1M317.5 874v1M45.5 897v1M319.5 871v1M680.5 871v1M1000.5 842v1M923.5 821v1M595.5 839v1M863.5 864v1M197.5 884v1M464.5 847v1M864.5 863v1M910.5 837v1M366.5 851v1M676.5 867v1M803.5 877v1M670.5 860v1M798.5 881v1M430.5 833v1M367.5 850v1M919.5 826v1M307.5 881v1M862.5 865v1M468.5 844v1M671.5 861v1M371.5 847v1M991.5 832v1M915.5 831v1M918.5 827v1M1001.5 843v1M1266.5 853v1M1267.5 852v1M913.5 833v1M914.5 832v1M693.5 882v1M1002.5 844v1M590.5 835v1M880.5 848v1M1003.5 845v1M688.5 879v1M672.5 862v1M60.5 883v1" stroke="#1e90ff" stroke-width="1" fill="none" shape-rendering="crispEdges"/>
<text x="1.5" y="781" font-size="9.9" fill="#000" textLength="67.5" lengthAdjust="spacingAndGlyphs" stroke="#000" stroke-width="0.1">RSI(14) 43.3269</text>
<g shape-rendering="crispEdges">
<rect x="1626" y="769" width="2" height="1" fill="#000" />
<rect x="1626" y="927" width="2" height="1" fill="#000" />
</g>
<text x="1629.5" y="779" font-size="9.8" fill="#000" textLength="14" lengthAdjust="spacingAndGlyphs" stroke="#000" stroke-width="0.1">100</text>
<text x="1628.3" y="805" font-size="9.8" fill="#000" textLength="9.5" lengthAdjust="spacingAndGlyphs" stroke="#000" stroke-width="0.1">80</text>
<text x="1628.3" y="852" font-size="9.8" fill="#000" textLength="9.5" lengthAdjust="spacingAndGlyphs" stroke="#000" stroke-width="0.1">50</text>
<text x="1628.3" y="908" font-size="9.8" fill="#000" textLength="9.5" lengthAdjust="spacingAndGlyphs" stroke="#000" stroke-width="0.1">15</text>
<text x="1629.5" y="925" font-size="9.8" fill="#000" textLength="4.6" lengthAdjust="spacingAndGlyphs" stroke="#000" stroke-width="0.1">0</text>
<g shape-rendering="crispEdges">
<rect x="-3" y="929" width="1" height="3" fill="#000" />
<rect x="61" y="929" width="1" height="3" fill="#000" />
<rect x="125" y="929" width="1" height="3" fill="#000" />
<rect x="189" y="929" width="1" height="3" fill="#000" />
<rect x="253" y="929" width="1" height="3" fill="#000" />
<rect x="317" y="929" width="1" height="3" fill="#000" />
<rect x="381" y="929" width="1" height="3" fill="#000" />
<rect x="445" y="929" width="1" height="3" fill="#000" />
<rect x="509" y="929" width="1" height="3" fill="#000" />
<rect x="573" y="929" width="1" height="3" fill="#000" />
<rect x="637" y="929" width="1" height="3" fill="#000" />
<rect x="701" y="929" width="1" height="3" fill="#000" />
<rect x="765" y="929" width="1" height="3" fill="#000" />
<rect x="829" y="929" width="1" height="3" fill="#000" />
<rect x="893" y="929" width="1" height="3" fill="#000" />
<rect x="957" y="929" width="1" height="3" fill="#000" />
<rect x="1021" y="929" width="1" height="3" fill="#000" />
<rect x="1085" y="929" width="1" height="3" fill="#000" />
<rect x="1149" y="929" width="1" height="3" fill="#000" />
<rect x="1213" y="929" width="1" height="3" fill="#000" />
<rect x="1277" y="929" width="1" height="3" fill="#000" />
<rect x="1341" y="929" width="1" height="3" fill="#000" />
<rect x="1405" y="929" width="1" height="3" fill="#000" />
</g>
<text x="-3.3" y="941" font-size="9.8" fill="#000" textLength="43" lengthAdjust="spacingAndGlyphs" stroke="#000" stroke-width="0.1">5 Jul 2019</text>
<text x="60.7" y="941" font-size="9.8" fill="#000" textLength="44.2" lengthAdjust="spacingAndGlyphs" stroke="#000" stroke-width="0.1">5 Jul 16:00</text>
<text x="124.7" y="941" font-size="9.8" fill="#000" textLength="44.2" lengthAdjust="spacingAndGlyphs" stroke="#000" stroke-width="0.1">8 Jul 08:00</text>
<text x="188.7" y="941" font-size="9.8" fill="#000" textLength="44.2" lengthAdjust="spacingAndGlyphs" stroke="#000" stroke-width="0.1">9 Jul 00:00</text>
<text x="252.7" y="941" font-size="9.8" fill="#000" textLength="44.2" lengthAdjust="spacingAndGlyphs" stroke="#000" stroke-width="0.1">9 Jul 16:00</text>
<text x="316.7" y="941" font-size="9.8" fill="#000" textLength="48.8" lengthAdjust="spacingAndGlyphs" stroke="#000" stroke-width="0.1">10 Jul 08:00</text>
<text x="380.7" y="941" font-size="9.8" fill="#000" textLength="48.8" lengthAdjust="spacingAndGlyphs" stroke="#000" stroke-width="0.1">11 Jul 00:00</text>
<text x="444.7" y="941" font-size="9.8" fill="#000" textLength="48.8" lengthAdjust="spacingAndGlyphs" stroke="#000" stroke-width="0.1">11 Jul 16:00</text>
<text x="508.7" y="941" font-size="9.8" fill="#000" textLength="48.8" lengthAdjust="spacingAndGlyphs" stroke="#000" stroke-width="0.1">12 Jul 08:00</text>
<text x="572.7" y="941" font-size="9.8" fill="#000" textLength="48.8" lengthAdjust="spacingAndGlyphs" stroke="#000" stroke-width="0.1">15 Jul 00:00</text>
<text x="636.7" y="941" font-size="9.8" fill="#000" textLength="48.8" lengthAdjust="spacingAndGlyphs" stroke="#000" stroke-width="0.1">15 Jul 16:00</text>
<text x="700.7" y="941" font-size="9.8" fill="#000" textLength="48.8" lengthAdjust="spacingAndGlyphs" stroke="#000" stroke-width="0.1">16 Jul 08:00</text>
<text x="764.7" y="941" font-size="9.8" fill="#000" textLength="48.8" lengthAdjust="spacingAndGlyphs" stroke="#000" stroke-width="0.1">17 Jul 00:00</text>
<text x="828.7" y="941" font-size="9.8" fill="#000" textLength="48.8" lengthAdjust="spacingAndGlyphs" stroke="#000" stroke-width="0.1">17 Jul 16:00</text>
<text x="892.7" y="941" font-size="9.8" fill="#000" textLength="48.8" lengthAdjust="spacingAndGlyphs" stroke="#000" stroke-width="0.1">18 Jul 08:00</text>
<text x="956.7" y="941" font-size="9.8" fill="#000" textLength="48.8" lengthAdjust="spacingAndGlyphs" stroke="#000" stroke-width="0.1">19 Jul 00:00</text>
<text x="1020.7" y="941" font-size="9.8" fill="#000" textLength="48.8" lengthAdjust="spacingAndGlyphs" stroke="#000" stroke-width="0.1">19 Jul 16:00</text>
<text x="1084.7" y="941" font-size="9.8" fill="#000" textLength="48.8" lengthAdjust="spacingAndGlyphs" stroke="#000" stroke-width="0.1">22 Jul 08:00</text>
<text x="1148.7" y="941" font-size="9.8" fill="#000" textLength="48.8" lengthAdjust="spacingAndGlyphs" stroke="#000" stroke-width="0.1">23 Jul 00:00</text>
<text x="1212.7" y="941" font-size="9.8" fill="#000" textLength="48.8" lengthAdjust="spacingAndGlyphs" stroke="#000" stroke-width="0.1">23 Jul 16:00</text>
<text x="1276.7" y="941" font-size="9.8" fill="#000" textLength="48.8" lengthAdjust="spacingAndGlyphs" stroke="#000" stroke-width="0.1">24 Jul 08:00</text>
<text x="1340.7" y="941" font-size="9.8" fill="#000" textLength="48.8" lengthAdjust="spacingAndGlyphs" stroke="#000" stroke-width="0.1">25 Jul 00:00</text>
<text x="1404.7" y="941" font-size="9.8" fill="#000" textLength="48.8" lengthAdjust="spacingAndGlyphs" stroke="#000" stroke-width="0.1">25 Jul 16:00</text>
<rect x="1671" y="26" width="1" height="919" fill="#e6e6e6" />
<polygon points="0,39 3.5,35 7,39" fill="#000"/>
<text x="12.2" y="40" font-size="9.9" fill="#000" textLength="203.8" xml:space="preserve" lengthAdjust="spacingAndGlyphs" stroke="#000" stroke-width="0.1">GBPUSD-,H4  1.24502 1.24542 1.24482 1.24498</text>
<g>
<rect x="0" y="48" width="52" height="25" fill="url(#gsell)" />
<rect x="167" y="48" width="52" height="25" fill="url(#gsell)" />
<rect x="0" y="72" width="109" height="40" fill="url(#gprice)" />
<rect x="111" y="72" width="108" height="40" fill="url(#gprice)" />
<path d="M0.5,112 V48.5 H51.5 V72" fill="none" stroke="#c81e1e" stroke-width="1"/>
<path d="M167.5,72 V48.5 H218.5 V112" fill="none" stroke="#c81e1e" stroke-width="1"/>
<rect x="4" y="71" width="44" height="1" fill="#8b0000" shape-rendering="crispEdges"/>
<rect x="4" y="72" width="44" height="1" fill="#ff7070" shape-rendering="crispEdges"/>
<rect x="171" y="71" width="44" height="1" fill="#8b0000" shape-rendering="crispEdges"/>
<rect x="171" y="72" width="44" height="1" fill="#ff7070" shape-rendering="crispEdges"/>
<rect x="54" y="48" width="111" height="22" fill="#aaa" />
<rect x="55" y="49" width="20" height="20" fill="url(#gbtn)" />
<rect x="76" y="49" width="67" height="20" fill="#fff" />
<rect x="144" y="49" width="20" height="20" fill="url(#gbtn)" />
<polygon points="62,57.5 67,57.5 64.5,60.5" fill="#000"/>
<polygon points="151.5,60 156.5,60 154,57" fill="#000"/>
</g>
<text x="12.5" y="64" font-size="12.3" fill="#fff" textLength="25" lengthAdjust="spacingAndGlyphs">SELL</text>
<text x="180.5" y="64" font-size="12.3" fill="#fff" textLength="23" lengthAdjust="spacingAndGlyphs">BUY</text>
<text x="117" y="63.5" font-size="12.3" fill="#000" textLength="23" lengthAdjust="spacingAndGlyphs">1.00</text>
<text x="20.8" y="102.6" font-size="12" fill="#fff" font-weight="bold" textLength="23" lengthAdjust="spacingAndGlyphs">1.24</text>
<text x="46.5" y="102.8" font-size="31.5" fill="#fff" textLength="37" stroke="url(#gpriceU)" stroke-width="0.35" lengthAdjust="spacingAndGlyphs">49</text>
<text x="87" y="86.7" font-size="12" fill="#fff" font-weight="bold">8</text>
<text x="131" y="102.6" font-size="12" fill="#fff" font-weight="bold" textLength="23" lengthAdjust="spacingAndGlyphs">1.24</text>
<text x="159" y="102.8" font-size="31.5" fill="#fff" textLength="34" stroke="url(#gpriceU)" stroke-width="0.35" lengthAdjust="spacingAndGlyphs">58</text>
<text x="198" y="86.7" font-size="12" fill="#fff" font-weight="bold">9</text>
<rect x="0" y="0" width="1672" height="24" fill="#f0f0f0" />
<rect x="0" y="24" width="1672" height="1" fill="#b4b4b4" shape-rendering="crispEdges"/>
<rect x="0" y="25" width="1672" height="1" fill="#7a7a7a" shape-rendering="crispEdges"/>
<rect x="0" y="26" width="1672" height="2" fill="#fdfdfd" shape-rendering="crispEdges"/>
<path d="M-2,4.5 H4.5 L7.5,7.5 V14.5 H-2 Z" fill="#fff" stroke="#8a8a8a" stroke-width="1"/>
<rect x="0" y="8" width="5" height="1" fill="#b0b0b0" />
<rect x="0" y="10" width="5" height="1" fill="#b0b0b0" />
<path d="M4.5,11 H8.5 V14.5 H12 V18.5 H8.5 V22 H4.5 V18.5 H0 V14.5 H4.5 Z" fill="url(#ggreen)" stroke="#0a8a0a" stroke-width="0.8"/>
<text x="15" y="15" font-size="12" fill="#000" >新订单</text>
<path d="M67.8,5.2 L78.7,13 L70.5,19.8 L63,13.5 Z" fill="url(#ggold)" stroke="#b07a08" stroke-width="0.8"/>
<path d="M70.5,19.8 L78.7,13 L78.7,14.5 L70.5,21 L63,14.8 L63,13.5 Z" fill="#b8860b"/>
<rect x="93.5" y="4.5" width="11" height="9" fill="#3aa0f0" stroke="#1e6fd0" stroke-width="1"/>
<rect x="97" y="7" width="6" height="5" fill="#d8ecff" />
<path d="M93,19.5 a3,3 0 0 1 0.5,-6 a4,4 0 0 1 7,-1 a3.5,3.5 0 0 1 5,3.5 a2,2 0 0 1 -1,3.5 Z" fill="#eef4fb" stroke="#5a8ad0" stroke-width="1"/>
<g fill="none" stroke-width="1.2"><path d="M127,4.5 a7.2,7.2 0 0 0 0,14.4" stroke="#7a9ae0"/><path d="M127,7 a4.7,4.7 0 0 0 0,9.4" stroke="#5a7ad8"/><path d="M127,4.5 a7.2,7.2 0 0 1 0,14.4" stroke="#8ac08a"/><path d="M127,7 a4.7,4.7 0 0 1 0,9.4" stroke="#6ab06a"/></g>
<circle cx="127" cy="11.5" r="1.8" fill="#2a5ad8"/>
<rect x="126.5" y="12" width="1.4" height="8" fill="#22aa22" />
<path d="M147,12 L158,12 L156,19.5 L153,19.5 Z" fill="#f5d040" stroke="#c8a010" stroke-width="0.6"/>
<ellipse cx="154" cy="9.5" rx="8" ry="3" fill="#5aa8e0" stroke="#2a78b8" stroke-width="0.6"/>
<ellipse cx="154" cy="7.5" rx="4.2" ry="3.3" fill="#7ac0f0" stroke="#2a78b8" stroke-width="0.6"/>
<circle cx="158.5" cy="15.8" r="4" fill="#e02010" stroke="#b01008" stroke-width="0.6"/>
<rect x="157" y="14.3" width="3" height="3" fill="#fff" />
<text x="168" y="15" font-size="12" fill="#000" textLength="46.5" lengthAdjust="spacingAndGlyphs">自动交易</text>
<rect x="222" y="1" width="1" height="21" fill="#a0a0a0" shape-rendering="crispEdges"/>
<rect x="225" y="2" width="4" height="1" fill="#b0b0b0" shape-rendering="crispEdges"/>
<rect x="225" y="4" width="4" height="1" fill="#b0b0b0" shape-rendering="crispEdges"/>
<rect x="225" y="6" width="4" height="1" fill="#b0b0b0" shape-rendering="crispEdges"/>
<rect x="225" y="8" width="4" height="1" fill="#b0b0b0" shape-rendering="crispEdges"/>
<rect x="225" y="10" width="4" height="1" fill="#b0b0b0" shape-rendering="crispEdges"/>
<rect x="225" y="12" width="4" height="1" fill="#b0b0b0" shape-rendering="crispEdges"/>
<rect x="225" y="14" width="4" height="1" fill="#b0b0b0" shape-rendering="crispEdges"/>
<rect x="225" y="16" width="4" height="1" fill="#b0b0b0" shape-rendering="crispEdges"/>
<rect x="225" y="18" width="4" height="1" fill="#b0b0b0" shape-rendering="crispEdges"/>
<rect x="225" y="20" width="4" height="1" fill="#b0b0b0" shape-rendering="crispEdges"/>
<path d="M240.5,6 V20 M238,17.5 H252 M239,8 L240.5,6 L242,8 M250,16 L252,17.5 L250,19" fill="none" stroke="#505050" stroke-width="1"/>
<path d="M246.5,7.5 V15.5 M246.5,8.5 H249.5 M246.5,14.5 H243.5" fill="none" stroke="#1a9a1a" stroke-width="1.3"/>
<rect x="260" y="0" width="25" height="22" fill="url(#hatch)" />
<rect x="260" y="0" width="25" height="1" fill="#a0a0a0" shape-rendering="crispEdges"/>
<rect x="260" y="0" width="1" height="22" fill="#a0a0a0" shape-rendering="crispEdges"/>
<rect x="284" y="1" width="1" height="21" fill="#fff" shape-rendering="crispEdges"/>
<path d="M268.5,6 V20 M266,17.5 H280 M267,8 L268.5,6 L270,8 M278,16 L280,17.5 L278,19" fill="none" stroke="#505050" stroke-width="1"/>
<rect x="274" y="4" width="1" height="12" fill="#0a8a0a" />
<rect x="272.5" y="6.5" width="4" height="7" fill="#44e044" stroke="#0a8a0a" stroke-width="1"/>
<path d="M296.5,6 V20 M294,17.5 H308 M295,8 L296.5,6 L298,8 M306,16 L308,17.5 L306,19" fill="none" stroke="#505050" stroke-width="1"/>
<path d="M295.3,14.7 Q299,9 301.5,9.2 Q304,10 306.5,13" fill="none" stroke="#2a9a2a" stroke-width="1.2"/>
<rect x="317" y="1" width="1" height="21" fill="#a0a0a0" shape-rendering="crispEdges"/>
<line x1="336" y1="14" x2="340.8" y2="18.8" stroke="#c8a020" stroke-width="2.6" stroke-linecap="round"/>
<circle cx="332" cy="10" r="5.5" fill="#dceefa" stroke="#3a80d0" stroke-width="1.3"/>
<path d="M329,10 H335 M332,7 V13" stroke="#4a88b8" stroke-width="1.8" fill="none"/>
<line x1="364" y1="14" x2="368.8" y2="18.8" stroke="#c8a020" stroke-width="2.6" stroke-linecap="round"/>
<circle cx="360" cy="10" r="5.5" fill="#dceefa" stroke="#3a80d0" stroke-width="1.3"/>
<path d="M357,10 H363" stroke="#4a88b8" stroke-width="1.8" fill="none"/>
<rect x="382" y="4" width="8" height="8" fill="#3aa020" />
<rect x="383" y="7" width="6" height="4" fill="#fff" />
<rect x="384" y="8.5" width="4" height="1" fill="#5ac040" />
<rect x="390" y="4" width="8" height="8" fill="#2050c8" />
<rect x="391" y="7" width="6" height="4" fill="#fff" />
<rect x="392" y="8.5" width="4" height="1" fill="#4878e8" />
<rect x="382" y="12" width="8" height="8" fill="#2050c8" />
<rect x="383" y="15" width="6" height="4" fill="#fff" />
<rect x="384" y="16.5" width="4" height="1" fill="#4878e8" />
<rect x="390" y="12" width="8" height="8" fill="#3aa020" />
<rect x="391" y="15" width="6" height="4" fill="#fff" />
<rect x="392" y="16.5" width="4" height="1" fill="#5ac040" />
<rect x="407" y="1" width="1" height="21" fill="#a0a0a0" shape-rendering="crispEdges"/>
<rect x="412" y="0" width="25" height="22" fill="url(#hatch)" />
<rect x="412" y="0" width="25" height="1" fill="#a0a0a0" shape-rendering="crispEdges"/>
<rect x="412" y="0" width="1" height="22" fill="#a0a0a0" shape-rendering="crispEdges"/>
<rect x="436" y="1" width="1" height="21" fill="#fff" shape-rendering="crispEdges"/>
<path d="M420.5,6 V20 M418,17.5 H432 M419,8 L420.5,6 L422,8 M430,16 L432,17.5 L430,19" fill="none" stroke="#505050" stroke-width="1"/>
<polygon points="425,8 429.3,11.4 425,14.8" fill="#44dd44" stroke="#0a8a0a" stroke-width="0.8"/>
<rect x="440" y="0" width="25" height="22" fill="url(#hatch)" />
<rect x="440" y="0" width="25" height="1" fill="#a0a0a0" shape-rendering="crispEdges"/>
<rect x="440" y="0" width="1" height="22" fill="#a0a0a0" shape-rendering="crispEdges"/>
<rect x="464" y="1" width="1" height="21" fill="#fff" shape-rendering="crispEdges"/>
<path d="M448.5,6 V20 M446,17.5 H460 M447,8 L448.5,6 L450,8 M458,16 L460,17.5 L458,19" fill="none" stroke="#505050" stroke-width="1"/>
<rect x="454" y="6" width="1.3" height="10" fill="#1a5ab0" />
<path d="M455.8,11.5 H460 M455.8,11.5 L458,9.5 M455.8,11.5 L458,13.5" stroke="#d84a10" stroke-width="1.2" fill="none"/>
<rect x="469" y="1" width="1" height="21" fill="#a0a0a0" shape-rendering="crispEdges"/>
<path d="M479.5,5 H487 L490.5,8.5 V17.5 H479.5 Z" fill="#fff" stroke="#8a8a8a" stroke-width="1"/>
<path d="M482,8 v7 M481,11 h2" stroke="#777" stroke-width="0.8" fill="none"/>
<path d="M487,10 H491 V13.7 H494.8 V17.7 H491 V21.6 H487 V17.7 H483 V13.7 H487 Z" fill="url(#ggreen)" stroke="#0a8a0a" stroke-width="0.8"/>
<polygon points="501,11.5 506,11.5 503.5,14.5" fill="#000"/>
<circle cx="525" cy="11.5" r="7" fill="#fff" stroke="#1e6fd0" stroke-width="2.2"/>
<path d="M525,11.5 V7 M525,11.5 H528.2" stroke="#444" stroke-width="0.9" fill="none"/>
<circle cx="525" cy="11.5" r="5.6" fill="none" stroke="#9ab" stroke-width="0.8" stroke-dasharray="0.6 2.33"/>
<polygon points="540,11.5 545,11.5 542.5,14.5" fill="#000"/>
<rect x="556.5" y="5.5" width="15" height="13" fill="#fff" stroke="#3a6fc0" stroke-width="1"/>
<rect x="557" y="6" width="14" height="2" fill="#6a9ae0" />
<rect x="557" y="12" width="14" height="1" fill="#3a6fc0" />
<path d="M558,10.5 l3,-1 l2,0.8 l3,-1.5 l2,0.6 l2,-1" stroke="#b02010" stroke-width="1.2" fill="none"/>
<path d="M558,16.5 l3,-1.2 l2,1 l3,-2 l2,1.6 l2,-0.6" stroke="#10a020" stroke-width="1.2" fill="none"/>
<polygon points="579,11.5 584,11.5 581.5,14.5" fill="#000"/>
<rect x="590" y="1" width="1" height="21" fill="#a0a0a0" shape-rendering="crispEdges"/>
<rect x="593" y="2" width="4" height="1" fill="#b0b0b0" shape-rendering="crispEdges"/>
<rect x="593" y="4" width="4" height="1" fill="#b0b0b0" shape-rendering="crispEdges"/>
<rect x="593" y="6" width="4" height="1" fill="#b0b0b0" shape-rendering="crispEdges"/>
<rect x="593" y="8" width="4" height="1" fill="#b0b0b0" shape-rendering="crispEdges"/>
<rect x="593" y="10" width="4" height="1" fill="#b0b0b0" shape-rendering="crispEdges"/>
<rect x="593" y="12" width="4" height="1" fill="#b0b0b0" shape-rendering="crispEdges"/>
<rect x="593" y="14" width="4" height="1" fill="#b0b0b0" shape-rendering="crispEdges"/>
<rect x="593" y="16" width="4" height="1" fill="#b0b0b0" shape-rendering="crispEdges"/>
<rect x="593" y="18" width="4" height="1" fill="#b0b0b0" shape-rendering="crispEdges"/>
<rect x="593" y="20" width="4" height="1" fill="#b0b0b0" shape-rendering="crispEdges"/>
<rect x="600" y="0" width="25" height="22" fill="url(#hatch)" />
<rect x="600" y="0" width="25" height="1" fill="#a0a0a0" shape-rendering="crispEdges"/>
<rect x="600" y="0" width="1" height="22" fill="#a0a0a0" shape-rendering="crispEdges"/>
<rect x="624" y="1" width="1" height="21" fill="#fff" shape-rendering="crispEdges"/>
<polygon points="608,5.5 608,16.2 610.8,14 613.3,19.2 615.2,18.3 612.8,13.2 616.2,12.8" fill="#404040"/>
<path d="M640.5,5 V11 M640.5,14 V20 M633,12.5 H639 M642,12.5 H648" stroke="#404040" stroke-width="1" fill="none"/>
<rect x="657" y="1" width="1" height="21" fill="#a0a0a0" shape-rendering="crispEdges"/>
<rect x="674" y="6" width="1" height="13" fill="#404040" shape-rendering="crispEdges"/>
<rect x="697" y="12" width="12" height="1" fill="#404040" shape-rendering="crispEdges"/>
<line x1="725" y1="19" x2="737.2" y2="6.8" stroke="#404040" stroke-width="1"/>
<path d="M750.5,13.5 L760,6 M751.5,16 L764.5,7 M753,18.6 L765,11 M754,11 v7 M757,9 v7.5 M760,7 v7 M763,5 v7" stroke="#404040" stroke-width="0.9" fill="none"/>
<text x="761.6" y="20.8" font-size="7" fill="#202020" font-weight="bold" stroke="#202020" stroke-width="0.1">E</text>
<line x1="780" y1="5.5" x2="793" y2="5.5" stroke="#404040" stroke-width="1" stroke-dasharray="1 1" shape-rendering="crispEdges"/>
<line x1="780" y1="9.5" x2="793" y2="9.5" stroke="#404040" stroke-width="1" stroke-dasharray="1 1" shape-rendering="crispEdges"/>
<line x1="780" y1="12.5" x2="793" y2="12.5" stroke="#404040" stroke-width="1" stroke-dasharray="1 1" shape-rendering="crispEdges"/>
<line x1="780" y1="16.5" x2="793" y2="16.5" stroke="#404040" stroke-width="1" stroke-dasharray="1 1" shape-rendering="crispEdges"/>
<text x="789.8" y="20.8" font-size="7" fill="#202020" font-weight="bold" stroke="#202020" stroke-width="0.1">F</text>
<text x="810.3" y="17" font-size="12" fill="#606060" font-weight="bold">A</text>
<rect x="837.5" y="6.5" width="11" height="12" fill="none" stroke="#404040" stroke-width="1" stroke-dasharray="1 1" shape-rendering="crispEdges"/>
<text x="839.3" y="16.8" font-size="11" fill="#505050" font-weight="bold">T</text>
<polygon points="867,5.5 870,8.5 867,10.5 864,8.5" fill="#404040"/><polygon points="874.6,13.5 878,16 874.6,19 871.2,16" fill="#404040"/><path d="M866,12.5 l2,2 l4,-4.5" stroke="#404040" stroke-width="1.2" fill="none"/>
<polygon points="885,11.5 890,11.5 887.5,14.5" fill="#000"/>
<rect x="896" y="1" width="1" height="21" fill="#a0a0a0" shape-rendering="crispEdges"/>
<rect x="899" y="2" width="4" height="1" fill="#b0b0b0" shape-rendering="crispEdges"/>
<rect x="899" y="4" width="4" height="1" fill="#b0b0b0" shape-rendering="crispEdges"/>
<rect x="899" y="6" width="4" height="1" fill="#b0b0b0" shape-rendering="crispEdges"/>
<rect x="899" y="8" width="4" height="1" fill="#b0b0b0" shape-rendering="crispEdges"/>
<rect x="899" y="10" width="4" height="1" fill="#b0b0b0" shape-rendering="crispEdges"/>
<rect x="899" y="12" width="4" height="1" fill="#b0b0b0" shape-rendering="crispEdges"/>
<rect x="899" y="14" width="4" height="1" fill="#b0b0b0" shape-rendering="crispEdges"/>
<rect x="899" y="16" width="4" height="1" fill="#b0b0b0" shape-rendering="crispEdges"/>
<rect x="899" y="18" width="4" height="1" fill="#b0b0b0" shape-rendering="crispEdges"/>
<rect x="899" y="20" width="4" height="1" fill="#b0b0b0" shape-rendering="crispEdges"/>
<rect x="1046" y="0" width="26" height="22" fill="url(#hatch)" />
<rect x="1046" y="0" width="26" height="1" fill="#a0a0a0" shape-rendering="crispEdges"/>
<rect x="1046" y="0" width="1" height="22" fill="#a0a0a0" shape-rendering="crispEdges"/>
<rect x="1071" y="1" width="1" height="21" fill="#fff" shape-rendering="crispEdges"/>
<text x="918" y="15.7" font-size="9.3" fill="#505050" text-anchor="middle">M1</text>
<text x="946" y="15.7" font-size="9.3" fill="#505050" text-anchor="middle">M5</text>
<text x="974" y="15.7" font-size="9.3" fill="#505050" text-anchor="middle">M15</text>
<text x="1002" y="15.7" font-size="9.3" fill="#505050" text-anchor="middle">M30</text>
<text x="1030" y="15.7" font-size="9.3" fill="#505050" text-anchor="middle">H1</text>
<text x="1058" y="15.7" font-size="9.3" fill="#505050" text-anchor="middle">H4</text>
<text x="1086" y="15.7" font-size="9.3" fill="#505050" text-anchor="middle">D1</text>
<text x="1114" y="15.7" font-size="9.3" fill="#505050" text-anchor="middle">W1</text>
<text x="1142" y="15.7" font-size="9.3" fill="#505050" text-anchor="middle">MN</text>
<rect x="1157" y="1" width="1" height="21" fill="#a0a0a0" shape-rendering="crispEdges"/>
<line x1="1624.3" y1="12.6" x2="1620.3" y2="16.6" stroke="#2a5acc" stroke-width="2.6" stroke-linecap="round"/>
<circle cx="1627.6" cy="9.4" r="4" fill="#f4f4f4" stroke="#2a5acc" stroke-width="1.4"/>
<ellipse cx="1660" cy="9.4" rx="6.5" ry="5.5" fill="#fafafc" stroke="#8c8c8c" stroke-width="1"/><polygon points="1661,14 1664,16 1663,13.5" fill="#8a8a8a"/>
<ellipse cx="1651" cy="13.4" rx="4.8" ry="4" fill="#fafafc" stroke="#8c8c8c" stroke-width="1"/><polygon points="1648,16.5 1648,19 1650.5,17" fill="#8a8a8a"/>
</svg></body></html>
